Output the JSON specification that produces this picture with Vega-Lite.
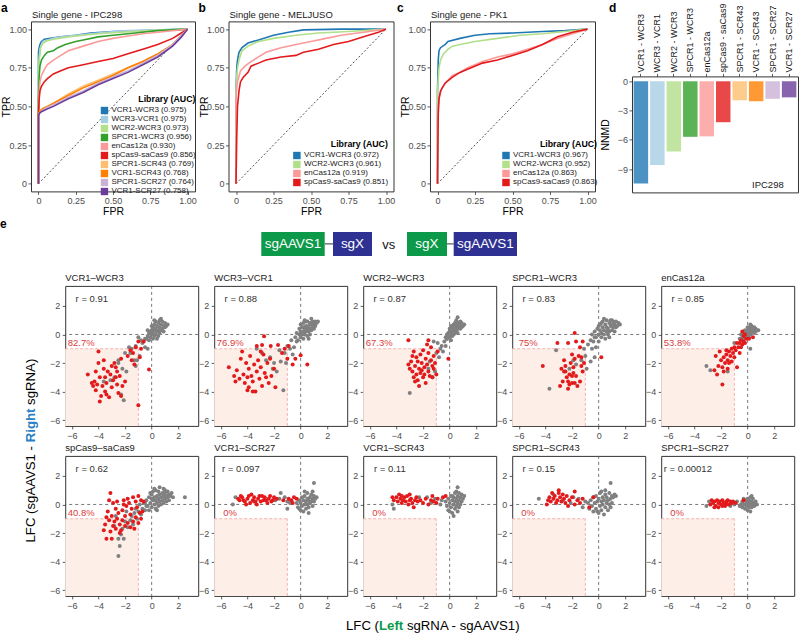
{
"$schema": "https://vega.github.io/schema/vega-lite/v6.json",
"padding": {"left": 0, "top": 1.4, "right": 0, "bottom": 0},
"background": "white",
"config": {
 "font": "Liberation Sans",
 "view": {"stroke": "#333333", "strokeWidth": 1},
 "axis": {"domain": false, "grid": false, "tickColor": "#333333", "tickSize": 3, "tickWidth": 0.8, "labelColor": "#4d4d4d", "labelFontSize": 9, "labelPadding": 1.5, "titleFontSize": 10.5, "titleFontWeight": "normal", "titleColor": "#000000", "titlePadding": 1}
},
"datasets": {
 "rocA": [
  {"s":"VCR1-WCR3 (0.975)","f":0,"t":0},{"s":"VCR1-WCR3 (0.975)","f":0,"t":0.5},{"s":"VCR1-WCR3 (0.975)","f":0,"t":0.85},{"s":"VCR1-WCR3 (0.975)","f":0.005,"t":0.88},{"s":"VCR1-WCR3 (0.975)","f":0.01,"t":0.9},{"s":"VCR1-WCR3 (0.975)","f":0.02,"t":0.92},{"s":"VCR1-WCR3 (0.975)","f":0.04,"t":0.935},{"s":"VCR1-WCR3 (0.975)","f":0.08,"t":0.94},{"s":"VCR1-WCR3 (0.975)","f":0.15,"t":0.95},{"s":"VCR1-WCR3 (0.975)","f":0.25,"t":0.96},{"s":"VCR1-WCR3 (0.975)","f":0.35,"t":0.975},{"s":"VCR1-WCR3 (0.975)","f":0.5,"t":0.985},{"s":"VCR1-WCR3 (0.975)","f":0.7,"t":0.99},{"s":"VCR1-WCR3 (0.975)","f":0.85,"t":0.995},{"s":"VCR1-WCR3 (0.975)","f":1,"t":1},
  {"s":"WCR3-VCR1 (0.975)","f":0,"t":0},{"s":"WCR3-VCR1 (0.975)","f":0,"t":0.6},{"s":"WCR3-VCR1 (0.975)","f":0.005,"t":0.82},{"s":"WCR3-VCR1 (0.975)","f":0.01,"t":0.87},{"s":"WCR3-VCR1 (0.975)","f":0.02,"t":0.9},{"s":"WCR3-VCR1 (0.975)","f":0.03,"t":0.92},{"s":"WCR3-VCR1 (0.975)","f":0.06,"t":0.93},{"s":"WCR3-VCR1 (0.975)","f":0.12,"t":0.945},{"s":"WCR3-VCR1 (0.975)","f":0.2,"t":0.955},{"s":"WCR3-VCR1 (0.975)","f":0.3,"t":0.965},{"s":"WCR3-VCR1 (0.975)","f":0.45,"t":0.98},{"s":"WCR3-VCR1 (0.975)","f":0.6,"t":0.99},{"s":"WCR3-VCR1 (0.975)","f":0.8,"t":0.995},{"s":"WCR3-VCR1 (0.975)","f":1,"t":1},
  {"s":"WCR2-WCR3 (0.973)","f":0,"t":0},{"s":"WCR2-WCR3 (0.973)","f":0,"t":0.6},{"s":"WCR2-WCR3 (0.973)","f":0.005,"t":0.8},{"s":"WCR2-WCR3 (0.973)","f":0.015,"t":0.88},{"s":"WCR2-WCR3 (0.973)","f":0.03,"t":0.91},{"s":"WCR2-WCR3 (0.973)","f":0.06,"t":0.925},{"s":"WCR2-WCR3 (0.973)","f":0.1,"t":0.935},{"s":"WCR2-WCR3 (0.973)","f":0.2,"t":0.95},{"s":"WCR2-WCR3 (0.973)","f":0.3,"t":0.96},{"s":"WCR2-WCR3 (0.973)","f":0.4,"t":0.97},{"s":"WCR2-WCR3 (0.973)","f":0.55,"t":0.98},{"s":"WCR2-WCR3 (0.973)","f":0.75,"t":0.99},{"s":"WCR2-WCR3 (0.973)","f":1,"t":1},
  {"s":"SPCR1-WCR3 (0.956)","f":0,"t":0},{"s":"SPCR1-WCR3 (0.956)","f":0,"t":0.55},{"s":"SPCR1-WCR3 (0.956)","f":0.005,"t":0.7},{"s":"SPCR1-WCR3 (0.956)","f":0.01,"t":0.76},{"s":"SPCR1-WCR3 (0.956)","f":0.02,"t":0.8},{"s":"SPCR1-WCR3 (0.956)","f":0.04,"t":0.83},{"s":"SPCR1-WCR3 (0.956)","f":0.06,"t":0.85},{"s":"SPCR1-WCR3 (0.956)","f":0.1,"t":0.86},{"s":"SPCR1-WCR3 (0.956)","f":0.13,"t":0.88},{"s":"SPCR1-WCR3 (0.956)","f":0.18,"t":0.9},{"s":"SPCR1-WCR3 (0.956)","f":0.25,"t":0.92},{"s":"SPCR1-WCR3 (0.956)","f":0.3,"t":0.93},{"s":"SPCR1-WCR3 (0.956)","f":0.4,"t":0.95},{"s":"SPCR1-WCR3 (0.956)","f":0.5,"t":0.96},{"s":"SPCR1-WCR3 (0.956)","f":0.65,"t":0.975},{"s":"SPCR1-WCR3 (0.956)","f":0.8,"t":0.99},{"s":"SPCR1-WCR3 (0.956)","f":1,"t":1},
  {"s":"enCas12a (0.930)","f":0,"t":0},{"s":"enCas12a (0.930)","f":0,"t":0.5},{"s":"enCas12a (0.930)","f":0.005,"t":0.6},{"s":"enCas12a (0.930)","f":0.01,"t":0.66},{"s":"enCas12a (0.930)","f":0.02,"t":0.7},{"s":"enCas12a (0.930)","f":0.04,"t":0.74},{"s":"enCas12a (0.930)","f":0.06,"t":0.77},{"s":"enCas12a (0.930)","f":0.1,"t":0.8},{"s":"enCas12a (0.930)","f":0.15,"t":0.83},{"s":"enCas12a (0.930)","f":0.2,"t":0.86},{"s":"enCas12a (0.930)","f":0.3,"t":0.89},{"s":"enCas12a (0.930)","f":0.4,"t":0.92},{"s":"enCas12a (0.930)","f":0.5,"t":0.94},{"s":"enCas12a (0.930)","f":0.6,"t":0.955},{"s":"enCas12a (0.930)","f":0.7,"t":0.97},{"s":"enCas12a (0.930)","f":0.85,"t":0.985},{"s":"enCas12a (0.930)","f":1,"t":1},
  {"s":"spCas9-saCas9 (0.856)","f":0,"t":0},{"s":"spCas9-saCas9 (0.856)","f":0,"t":0.45},{"s":"spCas9-saCas9 (0.856)","f":0.005,"t":0.55},{"s":"spCas9-saCas9 (0.856)","f":0.01,"t":0.6},{"s":"spCas9-saCas9 (0.856)","f":0.02,"t":0.63},{"s":"spCas9-saCas9 (0.856)","f":0.04,"t":0.66},{"s":"spCas9-saCas9 (0.856)","f":0.06,"t":0.68},{"s":"spCas9-saCas9 (0.856)","f":0.1,"t":0.71},{"s":"spCas9-saCas9 (0.856)","f":0.15,"t":0.73},{"s":"spCas9-saCas9 (0.856)","f":0.2,"t":0.75},{"s":"spCas9-saCas9 (0.856)","f":0.3,"t":0.77},{"s":"spCas9-saCas9 (0.856)","f":0.4,"t":0.79},{"s":"spCas9-saCas9 (0.856)","f":0.5,"t":0.81},{"s":"spCas9-saCas9 (0.856)","f":0.6,"t":0.84},{"s":"spCas9-saCas9 (0.856)","f":0.7,"t":0.87},{"s":"spCas9-saCas9 (0.856)","f":0.8,"t":0.9},{"s":"spCas9-saCas9 (0.856)","f":0.9,"t":0.94},{"s":"spCas9-saCas9 (0.856)","f":0.95,"t":0.97},{"s":"spCas9-saCas9 (0.856)","f":1,"t":1},
  {"s":"SPCR1-SCR43 (0.769)","f":0,"t":0},{"s":"SPCR1-SCR43 (0.769)","f":0,"t":0.44},{"s":"SPCR1-SCR43 (0.769)","f":0.01,"t":0.47},{"s":"SPCR1-SCR43 (0.769)","f":0.03,"t":0.49},{"s":"SPCR1-SCR43 (0.769)","f":0.06,"t":0.5},{"s":"SPCR1-SCR43 (0.769)","f":0.1,"t":0.52},{"s":"SPCR1-SCR43 (0.769)","f":0.15,"t":0.55},{"s":"SPCR1-SCR43 (0.769)","f":0.2,"t":0.58},{"s":"SPCR1-SCR43 (0.769)","f":0.3,"t":0.63},{"s":"SPCR1-SCR43 (0.769)","f":0.4,"t":0.67},{"s":"SPCR1-SCR43 (0.769)","f":0.5,"t":0.71},{"s":"SPCR1-SCR43 (0.769)","f":0.6,"t":0.75},{"s":"SPCR1-SCR43 (0.769)","f":0.7,"t":0.79},{"s":"SPCR1-SCR43 (0.769)","f":0.8,"t":0.84},{"s":"SPCR1-SCR43 (0.769)","f":0.9,"t":0.9},{"s":"SPCR1-SCR43 (0.769)","f":0.95,"t":0.95},{"s":"SPCR1-SCR43 (0.769)","f":1,"t":1},
  {"s":"VCR1-SCR43 (0.768)","f":0,"t":0},{"s":"VCR1-SCR43 (0.768)","f":0,"t":0.45},{"s":"VCR1-SCR43 (0.768)","f":0.01,"t":0.47},{"s":"VCR1-SCR43 (0.768)","f":0.04,"t":0.49},{"s":"VCR1-SCR43 (0.768)","f":0.08,"t":0.51},{"s":"VCR1-SCR43 (0.768)","f":0.12,"t":0.53},{"s":"VCR1-SCR43 (0.768)","f":0.2,"t":0.57},{"s":"VCR1-SCR43 (0.768)","f":0.3,"t":0.62},{"s":"VCR1-SCR43 (0.768)","f":0.4,"t":0.66},{"s":"VCR1-SCR43 (0.768)","f":0.5,"t":0.7},{"s":"VCR1-SCR43 (0.768)","f":0.6,"t":0.75},{"s":"VCR1-SCR43 (0.768)","f":0.7,"t":0.79},{"s":"VCR1-SCR43 (0.768)","f":0.8,"t":0.84},{"s":"VCR1-SCR43 (0.768)","f":0.9,"t":0.9},{"s":"VCR1-SCR43 (0.768)","f":0.97,"t":0.97},{"s":"VCR1-SCR43 (0.768)","f":1,"t":1},
  {"s":"SPCR1-SCR27 (0.764)","f":0,"t":0},{"s":"SPCR1-SCR27 (0.764)","f":0,"t":0.43},{"s":"SPCR1-SCR27 (0.764)","f":0.01,"t":0.46},{"s":"SPCR1-SCR27 (0.764)","f":0.05,"t":0.49},{"s":"SPCR1-SCR27 (0.764)","f":0.1,"t":0.51},{"s":"SPCR1-SCR27 (0.764)","f":0.2,"t":0.56},{"s":"SPCR1-SCR27 (0.764)","f":0.3,"t":0.6},{"s":"SPCR1-SCR27 (0.764)","f":0.4,"t":0.65},{"s":"SPCR1-SCR27 (0.764)","f":0.5,"t":0.69},{"s":"SPCR1-SCR27 (0.764)","f":0.6,"t":0.73},{"s":"SPCR1-SCR27 (0.764)","f":0.7,"t":0.78},{"s":"SPCR1-SCR27 (0.764)","f":0.8,"t":0.83},{"s":"SPCR1-SCR27 (0.764)","f":0.9,"t":0.9},{"s":"SPCR1-SCR27 (0.764)","f":0.96,"t":0.96},{"s":"SPCR1-SCR27 (0.764)","f":1,"t":1},
  {"s":"VCR1-SCR27 (0.758)","f":0,"t":0},{"s":"VCR1-SCR27 (0.758)","f":0,"t":0.44},{"s":"VCR1-SCR27 (0.758)","f":0.01,"t":0.46},{"s":"VCR1-SCR27 (0.758)","f":0.05,"t":0.48},{"s":"VCR1-SCR27 (0.758)","f":0.1,"t":0.5},{"s":"VCR1-SCR27 (0.758)","f":0.2,"t":0.55},{"s":"VCR1-SCR27 (0.758)","f":0.3,"t":0.59},{"s":"VCR1-SCR27 (0.758)","f":0.4,"t":0.64},{"s":"VCR1-SCR27 (0.758)","f":0.5,"t":0.68},{"s":"VCR1-SCR27 (0.758)","f":0.6,"t":0.72},{"s":"VCR1-SCR27 (0.758)","f":0.7,"t":0.77},{"s":"VCR1-SCR27 (0.758)","f":0.8,"t":0.82},{"s":"VCR1-SCR27 (0.758)","f":0.9,"t":0.89},{"s":"VCR1-SCR27 (0.758)","f":0.96,"t":0.95},{"s":"VCR1-SCR27 (0.758)","f":1,"t":1}
 ],
 "rocB": [
  {"s":"VCR1-WCR3 (0.972)","f":0,"t":0},{"s":"VCR1-WCR3 (0.972)","f":0,"t":0.6},{"s":"VCR1-WCR3 (0.972)","f":0.005,"t":0.75},{"s":"VCR1-WCR3 (0.972)","f":0.01,"t":0.8},{"s":"VCR1-WCR3 (0.972)","f":0.02,"t":0.85},{"s":"VCR1-WCR3 (0.972)","f":0.04,"t":0.88},{"s":"VCR1-WCR3 (0.972)","f":0.08,"t":0.91},{"s":"VCR1-WCR3 (0.972)","f":0.15,"t":0.93},{"s":"VCR1-WCR3 (0.972)","f":0.25,"t":0.96},{"s":"VCR1-WCR3 (0.972)","f":0.35,"t":0.98},{"s":"VCR1-WCR3 (0.972)","f":0.45,"t":0.995},{"s":"VCR1-WCR3 (0.972)","f":0.7,"t":1},{"s":"VCR1-WCR3 (0.972)","f":1,"t":1},
  {"s":"WCR2-WCR3 (0.961)","f":0,"t":0},{"s":"WCR2-WCR3 (0.961)","f":0,"t":0.6},{"s":"WCR2-WCR3 (0.961)","f":0.005,"t":0.7},{"s":"WCR2-WCR3 (0.961)","f":0.01,"t":0.75},{"s":"WCR2-WCR3 (0.961)","f":0.02,"t":0.8},{"s":"WCR2-WCR3 (0.961)","f":0.04,"t":0.86},{"s":"WCR2-WCR3 (0.961)","f":0.08,"t":0.89},{"s":"WCR2-WCR3 (0.961)","f":0.15,"t":0.92},{"s":"WCR2-WCR3 (0.961)","f":0.25,"t":0.94},{"s":"WCR2-WCR3 (0.961)","f":0.4,"t":0.96},{"s":"WCR2-WCR3 (0.961)","f":0.55,"t":0.975},{"s":"WCR2-WCR3 (0.961)","f":0.75,"t":0.985},{"s":"WCR2-WCR3 (0.961)","f":1,"t":1},
  {"s":"enCas12a (0.919)","f":0,"t":0},{"s":"enCas12a (0.919)","f":0,"t":0.55},{"s":"enCas12a (0.919)","f":0.005,"t":0.62},{"s":"enCas12a (0.919)","f":0.01,"t":0.66},{"s":"enCas12a (0.919)","f":0.03,"t":0.73},{"s":"enCas12a (0.919)","f":0.06,"t":0.76},{"s":"enCas12a (0.919)","f":0.1,"t":0.79},{"s":"enCas12a (0.919)","f":0.15,"t":0.82},{"s":"enCas12a (0.919)","f":0.2,"t":0.85},{"s":"enCas12a (0.919)","f":0.3,"t":0.88},{"s":"enCas12a (0.919)","f":0.4,"t":0.9},{"s":"enCas12a (0.919)","f":0.5,"t":0.92},{"s":"enCas12a (0.919)","f":0.6,"t":0.94},{"s":"enCas12a (0.919)","f":0.7,"t":0.96},{"s":"enCas12a (0.919)","f":0.85,"t":0.98},{"s":"enCas12a (0.919)","f":1,"t":1},
  {"s":"spCas9-saCas9 (0.851)","f":0,"t":0},{"s":"spCas9-saCas9 (0.851)","f":0.005,"t":0.3},{"s":"spCas9-saCas9 (0.851)","f":0.01,"t":0.5},{"s":"spCas9-saCas9 (0.851)","f":0.02,"t":0.6},{"s":"spCas9-saCas9 (0.851)","f":0.03,"t":0.66},{"s":"spCas9-saCas9 (0.851)","f":0.05,"t":0.69},{"s":"spCas9-saCas9 (0.851)","f":0.08,"t":0.72},{"s":"spCas9-saCas9 (0.851)","f":0.1,"t":0.76},{"s":"spCas9-saCas9 (0.851)","f":0.15,"t":0.78},{"s":"spCas9-saCas9 (0.851)","f":0.2,"t":0.8},{"s":"spCas9-saCas9 (0.851)","f":0.3,"t":0.82},{"s":"spCas9-saCas9 (0.851)","f":0.4,"t":0.83},{"s":"spCas9-saCas9 (0.851)","f":0.45,"t":0.85},{"s":"spCas9-saCas9 (0.851)","f":0.55,"t":0.87},{"s":"spCas9-saCas9 (0.851)","f":0.65,"t":0.9},{"s":"spCas9-saCas9 (0.851)","f":0.75,"t":0.92},{"s":"spCas9-saCas9 (0.851)","f":0.85,"t":0.95},{"s":"spCas9-saCas9 (0.851)","f":0.95,"t":0.98},{"s":"spCas9-saCas9 (0.851)","f":1,"t":1}
 ],
 "rocC": [
  {"s":"VCR1-WCR3 (0.967)","f":0,"t":0},{"s":"VCR1-WCR3 (0.967)","f":0,"t":0.6},{"s":"VCR1-WCR3 (0.967)","f":0.005,"t":0.8},{"s":"VCR1-WCR3 (0.967)","f":0.01,"t":0.86},{"s":"VCR1-WCR3 (0.967)","f":0.02,"t":0.88},{"s":"VCR1-WCR3 (0.967)","f":0.05,"t":0.9},{"s":"VCR1-WCR3 (0.967)","f":0.07,"t":0.92},{"s":"VCR1-WCR3 (0.967)","f":0.15,"t":0.94},{"s":"VCR1-WCR3 (0.967)","f":0.25,"t":0.96},{"s":"VCR1-WCR3 (0.967)","f":0.35,"t":0.97},{"s":"VCR1-WCR3 (0.967)","f":0.5,"t":0.975},{"s":"VCR1-WCR3 (0.967)","f":0.7,"t":0.985},{"s":"VCR1-WCR3 (0.967)","f":0.85,"t":0.99},{"s":"VCR1-WCR3 (0.967)","f":1,"t":1},
  {"s":"WCR2-WCR3 (0.952)","f":0,"t":0},{"s":"WCR2-WCR3 (0.952)","f":0,"t":0.6},{"s":"WCR2-WCR3 (0.952)","f":0.01,"t":0.75},{"s":"WCR2-WCR3 (0.952)","f":0.02,"t":0.8},{"s":"WCR2-WCR3 (0.952)","f":0.04,"t":0.84},{"s":"WCR2-WCR3 (0.952)","f":0.07,"t":0.87},{"s":"WCR2-WCR3 (0.952)","f":0.1,"t":0.89},{"s":"WCR2-WCR3 (0.952)","f":0.15,"t":0.9},{"s":"WCR2-WCR3 (0.952)","f":0.25,"t":0.92},{"s":"WCR2-WCR3 (0.952)","f":0.4,"t":0.94},{"s":"WCR2-WCR3 (0.952)","f":0.55,"t":0.96},{"s":"WCR2-WCR3 (0.952)","f":0.7,"t":0.97},{"s":"WCR2-WCR3 (0.952)","f":0.85,"t":0.985},{"s":"WCR2-WCR3 (0.952)","f":1,"t":1},
  {"s":"enCas12a (0.863)","f":0,"t":0},{"s":"enCas12a (0.863)","f":0,"t":0.4},{"s":"enCas12a (0.863)","f":0.005,"t":0.5},{"s":"enCas12a (0.863)","f":0.01,"t":0.55},{"s":"enCas12a (0.863)","f":0.03,"t":0.62},{"s":"enCas12a (0.863)","f":0.06,"t":0.66},{"s":"enCas12a (0.863)","f":0.1,"t":0.7},{"s":"enCas12a (0.863)","f":0.15,"t":0.72},{"s":"enCas12a (0.863)","f":0.2,"t":0.75},{"s":"enCas12a (0.863)","f":0.25,"t":0.77},{"s":"enCas12a (0.863)","f":0.3,"t":0.79},{"s":"enCas12a (0.863)","f":0.4,"t":0.82},{"s":"enCas12a (0.863)","f":0.5,"t":0.84},{"s":"enCas12a (0.863)","f":0.6,"t":0.87},{"s":"enCas12a (0.863)","f":0.7,"t":0.9},{"s":"enCas12a (0.863)","f":0.8,"t":0.94},{"s":"enCas12a (0.863)","f":0.9,"t":0.97},{"s":"enCas12a (0.863)","f":1,"t":1},
  {"s":"spCas9-saCas9 (0.863)","f":0,"t":0},{"s":"spCas9-saCas9 (0.863)","f":0.005,"t":0.45},{"s":"spCas9-saCas9 (0.863)","f":0.01,"t":0.55},{"s":"spCas9-saCas9 (0.863)","f":0.02,"t":0.6},{"s":"spCas9-saCas9 (0.863)","f":0.05,"t":0.65},{"s":"spCas9-saCas9 (0.863)","f":0.1,"t":0.69},{"s":"spCas9-saCas9 (0.863)","f":0.15,"t":0.72},{"s":"spCas9-saCas9 (0.863)","f":0.2,"t":0.74},{"s":"spCas9-saCas9 (0.863)","f":0.3,"t":0.78},{"s":"spCas9-saCas9 (0.863)","f":0.4,"t":0.8},{"s":"spCas9-saCas9 (0.863)","f":0.5,"t":0.83},{"s":"spCas9-saCas9 (0.863)","f":0.6,"t":0.86},{"s":"spCas9-saCas9 (0.863)","f":0.7,"t":0.9},{"s":"spCas9-saCas9 (0.863)","f":0.8,"t":0.95},{"s":"spCas9-saCas9 (0.863)","f":0.9,"t":0.98},{"s":"spCas9-saCas9 (0.863)","f":1,"t":1}
 ],
 "bars": [
  {"lib":"VCR1 - WCR3","v":-10.5},{"lib":"WCR3 - VCR1","v":-8.6},{"lib":"WCR2 - WCR3","v":-7.2},{"lib":"SPCR1 - WCR3","v":-5.7},{"lib":"enCas12a","v":-5.65},{"lib":"spCas9 - saCas9","v":-4.2},{"lib":"SPCR1 - SCR43","v":-1.95},{"lib":"VCR1 - SCR43","v":-2.05},{"lib":"SPCR1 - SCR27","v":-1.8},{"lib":"VCR1 - SCR27","v":-1.65}
 ],
 "sc": [
  {"p":1,"k":2,"r":"r = 0.91","c":"82.7%"},{"p":2,"k":2,"r":"r = 0.88","c":"76.9%"},{"p":3,"k":2,"r":"r = 0.87","c":"67.3%"},{"p":4,"k":2,"r":"r = 0.83","c":"75%"},{"p":5,"k":2,"r":"r = 0.85","c":"53.8%"},{"p":6,"k":2,"r":"r = 0.62","c":"40.8%"},{"p":7,"k":2,"r":"r = 0.097","c":"0%"},{"p":8,"k":2,"r":"r = 0.11","c":"0%"},{"p":9,"k":2,"r":"r = 0.15","c":"0%"},{"p":10,"k":2,"r":"r = 0.00012","c":"0%"},
  {"p":1,"k":0,"x":-0.4,"y":-0.3},{"p":1,"k":0,"x":-0.3,"y":-0.1},{"p":1,"k":0,"x":-0.2,"y":-0.4},{"p":1,"k":0,"x":-0.2,"y":0.1},{"p":1,"k":0,"x":-0.1,"y":-0.2},{"p":1,"k":0,"x":-0.1,"y":0.2},{"p":1,"k":0,"x":0,"y":0},{"p":1,"k":0,"x":0,"y":0.3},{"p":1,"k":0,"x":0.1,"y":-0.3},{"p":1,"k":0,"x":0.1,"y":0.1},{"p":1,"k":0,"x":0.1,"y":0.5},{"p":1,"k":0,"x":0.2,"y":-0.1},{"p":1,"k":0,"x":0.2,"y":0.3},{"p":1,"k":0,"x":0.2,"y":0.7},{"p":1,"k":0,"x":0.3,"y":0},{"p":1,"k":0,"x":0.3,"y":0.4},{"p":1,"k":0,"x":0.3,"y":0.9},{"p":1,"k":0,"x":0.4,"y":0.2},{"p":1,"k":0,"x":0.4,"y":0.6},{"p":1,"k":0,"x":0.5,"y":-0.1},{"p":1,"k":0,"x":0.5,"y":0.3},{"p":1,"k":0,"x":0.5,"y":0.8},{"p":1,"k":0,"x":0.6,"y":0.1},{"p":1,"k":0,"x":0.6,"y":0.5},{"p":1,"k":0,"x":0.6,"y":1.0},{"p":1,"k":0,"x":0.7,"y":0.3},{"p":1,"k":0,"x":0.7,"y":0.7},{"p":1,"k":0,"x":0.8,"y":0.4},{"p":1,"k":0,"x":0.8,"y":0.9},{"p":1,"k":0,"x":0.9,"y":0.2},{"p":1,"k":0,"x":0.9,"y":0.6},{"p":1,"k":0,"x":1.0,"y":0.5},{"p":1,"k":0,"x":1.0,"y":0.8},{"p":1,"k":0,"x":1.1,"y":0.6},{"p":1,"k":0,"x":1.2,"y":0.7},{"p":1,"k":0,"x":0.4,"y":-0.3},{"p":1,"k":0,"x":0,"y":0.6},{"p":1,"k":0,"x":-0.3,"y":0.3},{"p":1,"k":0,"x":0.7,"y":1.1},{"p":1,"k":0,"x":0.2,"y":1.0},
  {"p":1,"k":0,"x":-0.5,"y":-0.3},{"p":1,"k":0,"x":-0.8,"y":-0.4},{"p":1,"k":0,"x":-1.2,"y":-0.8},{"p":1,"k":0,"x":-1.5,"y":-1.0},{"p":1,"k":0,"x":-2.0,"y":-1.3},{"p":1,"k":0,"x":-2.5,"y":-1.8},{"p":1,"k":0,"x":-2.2,"y":-2.4},{"p":1,"k":0,"x":-1.2,"y":-2.2},{"p":1,"k":0,"x":-1.3,"y":-1.8},{"p":1,"k":0,"x":-0.9,"y":-1.5},{"p":1,"k":0,"x":-0.5,"y":-0.9},{"p":1,"k":0,"x":-0.3,"y":-1.0},{"p":1,"k":0,"x":-2.8,"y":-3.0},{"p":1,"k":0,"x":-3.1,"y":-3.2},{"p":1,"k":0,"x":-2.3,"y":-4.2},{"p":1,"k":0,"x":-2.1,"y":-4.6},{"p":1,"k":0,"x":-2.5,"y":-2.0},{"p":1,"k":0,"x":-1.9,"y":-2.6},{"p":1,"k":0,"x":-1.6,"y":-1.3},{"p":1,"k":0,"x":-0.7,"y":-0.6},{"p":1,"k":0,"x":-1.0,"y":-0.2},{"p":1,"k":0,"x":-1.7,"y":-0.9},{"p":1,"k":0,"x":-3.6,"y":-3.3},{"p":1,"k":0,"x":-1.1,"y":-1.8},
  {"p":1,"k":1,"x":-4.8,"y":-2.8},{"p":1,"k":1,"x":-4.5,"y":-3.4},{"p":1,"k":1,"x":-4.4,"y":-3.6},{"p":1,"k":1,"x":-4.3,"y":-3.3},{"p":1,"k":1,"x":-4.2,"y":-3.9},{"p":1,"k":1,"x":-4.1,"y":-3.5},{"p":1,"k":1,"x":-4.0,"y":-2.0},{"p":1,"k":1,"x":-3.9,"y":-4.7},{"p":1,"k":1,"x":-3.8,"y":-4.3},{"p":1,"k":1,"x":-3.7,"y":-3.6},{"p":1,"k":1,"x":-3.6,"y":-2.4},{"p":1,"k":1,"x":-3.5,"y":-3.0},{"p":1,"k":1,"x":-3.5,"y":-4.0},{"p":1,"k":1,"x":-3.4,"y":-3.4},{"p":1,"k":1,"x":-3.3,"y":-2.6},{"p":1,"k":1,"x":-3.2,"y":-4.4},{"p":1,"k":1,"x":-3.1,"y":-2.8},{"p":1,"k":1,"x":-3.0,"y":-3.7},{"p":1,"k":1,"x":-2.9,"y":-3.2},{"p":1,"k":1,"x":-2.8,"y":-2.0},{"p":1,"k":1,"x":-2.7,"y":-3.0},{"p":1,"k":1,"x":-2.6,"y":-3.5},{"p":1,"k":1,"x":-2.5,"y":-4.1},{"p":1,"k":1,"x":-2.4,"y":-2.9},{"p":1,"k":1,"x":-2.3,"y":-4.3},{"p":1,"k":1,"x":-2.2,"y":-3.6},{"p":1,"k":1,"x":-4.2,"y":-2.6},{"p":1,"k":1,"x":-3.9,"y":-3.0},{"p":1,"k":1,"x":-3.0,"y":-2.2},{"p":1,"k":1,"x":-2.6,"y":-2.6},{"p":1,"k":1,"x":-3.4,"y":-4.2},{"p":1,"k":1,"x":-4.0,"y":-1.2},{"p":1,"k":1,"x":-2.0,"y":-3.3},{"p":1,"k":1,"x":-1.6,"y":-1.1},{"p":1,"k":1,"x":-1.4,"y":-1.3},{"p":1,"k":1,"x":-1.2,"y":-0.9},{"p":1,"k":1,"x":-1.0,"y":-0.5},{"p":1,"k":1,"x":-0.9,"y":-1.6},{"p":1,"k":1,"x":-1.3,"y":-2.1},{"p":1,"k":1,"x":-0.6,"y":-0.5},{"p":1,"k":1,"x":-0.2,"y":-2.45},{"p":1,"k":1,"x":-1.0,"y":-4.95},{"p":1,"k":1,"x":-1.5,"y":-1.8},{"p":1,"k":1,"x":-0.8,"y":-1.0},{"p":1,"k":1,"x":-2.3,"y":-1.7},{"p":1,"k":1,"x":-1.8,"y":-1.5},{"p":1,"k":1,"x":-3.6,"y":-1.8},{"p":1,"k":1,"x":-2.7,"y":-2.3},
  {"p":2,"k":0,"x":-0.4,"y":-0.2},{"p":2,"k":0,"x":-0.3,"y":0.1},{"p":2,"k":0,"x":-0.2,"y":-0.4},{"p":2,"k":0,"x":-0.1,"y":0},{"p":2,"k":0,"x":-0.1,"y":0.4},{"p":2,"k":0,"x":0,"y":-0.2},{"p":2,"k":0,"x":0,"y":0.2},{"p":2,"k":0,"x":0.1,"y":0},{"p":2,"k":0,"x":0.1,"y":0.5},{"p":2,"k":0,"x":0.2,"y":-0.3},{"p":2,"k":0,"x":0.2,"y":0.2},{"p":2,"k":0,"x":0.2,"y":0.8},{"p":2,"k":0,"x":0.3,"y":0},{"p":2,"k":0,"x":0.3,"y":0.4},{"p":2,"k":0,"x":0.3,"y":1.0},{"p":2,"k":0,"x":0.4,"y":0.2},{"p":2,"k":0,"x":0.4,"y":0.6},{"p":2,"k":0,"x":0.5,"y":-0.1},{"p":2,"k":0,"x":0.5,"y":0.4},{"p":2,"k":0,"x":0.5,"y":0.9},{"p":2,"k":0,"x":0.6,"y":0.2},{"p":2,"k":0,"x":0.6,"y":0.6},{"p":2,"k":0,"x":0.7,"y":0},{"p":2,"k":0,"x":0.7,"y":0.4},{"p":2,"k":0,"x":0.7,"y":0.8},{"p":2,"k":0,"x":0.8,"y":0.3},{"p":2,"k":0,"x":0.8,"y":0.7},{"p":2,"k":0,"x":0.8,"y":1.1},{"p":2,"k":0,"x":0.9,"y":0.5},{"p":2,"k":0,"x":0.9,"y":0.9},{"p":2,"k":0,"x":1.0,"y":0.4},{"p":2,"k":0,"x":1.0,"y":0.7},{"p":2,"k":0,"x":1.1,"y":0.6},{"p":2,"k":0,"x":1.1,"y":0.9},{"p":2,"k":0,"x":1.2,"y":0.8},{"p":2,"k":0,"x":1.3,"y":0.9},{"p":2,"k":0,"x":0.4,"y":0.9},{"p":2,"k":0,"x":0,"y":0.7},{"p":2,"k":0,"x":0.6,"y":-0.3},{"p":2,"k":0,"x":0.2,"y":0.5},
  {"p":2,"k":0,"x":-0.5,"y":-0.9},{"p":2,"k":0,"x":-0.8,"y":-1.0},{"p":2,"k":0,"x":-1.2,"y":-1.3},{"p":2,"k":0,"x":-1.5,"y":-1.9},{"p":2,"k":0,"x":-2.0,"y":-2.0},{"p":2,"k":0,"x":-2.6,"y":-1.8},{"p":2,"k":0,"x":-2.9,"y":-1.3},{"p":2,"k":0,"x":-3.3,"y":-1.0},{"p":2,"k":0,"x":-1.0,"y":-0.8},{"p":2,"k":0,"x":-0.3,"y":-0.5},{"p":2,"k":0,"x":-1.3,"y":-3.9},{"p":2,"k":0,"x":-2.1,"y":-2.4},{"p":2,"k":0,"x":-0.6,"y":-1.4},{"p":2,"k":0,"x":-1.8,"y":-2.6},{"p":2,"k":0,"x":-1.6,"y":-1.1},{"p":2,"k":0,"x":-0.7,"y":-0.4},{"p":2,"k":0,"x":-2.3,"y":-1.6},{"p":2,"k":0,"x":-1.1,"y":-2.0},
  {"p":2,"k":1,"x":-5.4,"y":-2.3},{"p":2,"k":1,"x":-5.0,"y":-2.9},{"p":2,"k":1,"x":-4.8,"y":-2.5},{"p":2,"k":1,"x":-4.6,"y":-3.1},{"p":2,"k":1,"x":-4.4,"y":-1.2},{"p":2,"k":1,"x":-4.3,"y":-2.8},{"p":2,"k":1,"x":-4.2,"y":-3.4},{"p":2,"k":1,"x":-4.1,"y":-2.0},{"p":2,"k":1,"x":-4.0,"y":-3.9},{"p":2,"k":1,"x":-3.9,"y":-2.4},{"p":2,"k":1,"x":-3.9,"y":-3.7},{"p":2,"k":1,"x":-3.8,"y":-1.5},{"p":2,"k":1,"x":-3.7,"y":-2.9},{"p":2,"k":1,"x":-3.6,"y":-3.3},{"p":2,"k":1,"x":-3.5,"y":-2.1},{"p":2,"k":1,"x":-3.4,"y":-4.0},{"p":2,"k":1,"x":-3.3,"y":-2.6},{"p":2,"k":1,"x":-3.2,"y":-1.8},{"p":2,"k":1,"x":-3.1,"y":-3.1},{"p":2,"k":1,"x":-3.0,"y":-2.3},{"p":2,"k":1,"x":-2.9,"y":-3.6},{"p":2,"k":1,"x":-2.8,"y":-1.4},{"p":2,"k":1,"x":-2.7,"y":-2.7},{"p":2,"k":1,"x":-2.6,"y":-3.0},{"p":2,"k":1,"x":-2.5,"y":-2.0},{"p":2,"k":1,"x":-2.4,"y":-3.4},{"p":2,"k":1,"x":-2.3,"y":-1.7},{"p":2,"k":1,"x":-2.2,"y":-2.9},{"p":2,"k":1,"x":-4.5,"y":-1.7},{"p":2,"k":1,"x":-4.9,"y":-3.3},{"p":2,"k":1,"x":-3.0,"y":-1.2},{"p":2,"k":1,"x":-2.75,"y":-0.12},{"p":2,"k":1,"x":-2.9,"y":-0.74},{"p":2,"k":1,"x":-2.25,"y":-0.81},{"p":2,"k":1,"x":-1.7,"y":-0.74},{"p":2,"k":1,"x":-1.4,"y":-1.3},{"p":2,"k":1,"x":-1.0,"y":-1.7},{"p":2,"k":1,"x":-0.6,"y":-2.1},{"p":2,"k":1,"x":0,"y":-1.45},{"p":2,"k":1,"x":-0.9,"y":-0.8},{"p":2,"k":1,"x":-0.4,"y":-1.7},{"p":2,"k":1,"x":0.5,"y":-2.1},{"p":2,"k":1,"x":-1.9,"y":-3.7},{"p":2,"k":1,"x":-3.6,"y":-4.0},{"p":2,"k":1,"x":-4.0,"y":-3.0},{"p":2,"k":1,"x":-1.2,"y":-1.0},{"p":2,"k":1,"x":-2.0,"y":-2.4},{"p":2,"k":1,"x":-3.3,"y":-0.8},
  {"p":3,"k":0,"x":-0.3,"y":-0.2},{"p":3,"k":0,"x":-0.2,"y":0},{"p":3,"k":0,"x":-0.2,"y":-0.3},{"p":3,"k":0,"x":-0.1,"y":0.1},{"p":3,"k":0,"x":-0.1,"y":-0.1},{"p":3,"k":0,"x":0,"y":0.2},{"p":3,"k":0,"x":0,"y":-0.2},{"p":3,"k":0,"x":0.1,"y":0},{"p":3,"k":0,"x":0.1,"y":0.3},{"p":3,"k":0,"x":0.2,"y":0.1},{"p":3,"k":0,"x":0.2,"y":0.5},{"p":3,"k":0,"x":0.2,"y":-0.1},{"p":3,"k":0,"x":0.3,"y":0.3},{"p":3,"k":0,"x":0.3,"y":0.7},{"p":3,"k":0,"x":0.4,"y":0.1},{"p":3,"k":0,"x":0.4,"y":0.5},{"p":3,"k":0,"x":0.4,"y":0.8},{"p":3,"k":0,"x":0.5,"y":0.3},{"p":3,"k":0,"x":0.5,"y":0.6},{"p":3,"k":0,"x":0.6,"y":0.4},{"p":3,"k":0,"x":0.6,"y":0.8},{"p":3,"k":0,"x":0.6,"y":0.1},{"p":3,"k":0,"x":0.7,"y":0.5},{"p":3,"k":0,"x":0.7,"y":0.7},{"p":3,"k":0,"x":0.8,"y":0.4},{"p":3,"k":0,"x":0.8,"y":0.6},{"p":3,"k":0,"x":0.9,"y":0.5},{"p":3,"k":0,"x":0.9,"y":0.8},{"p":3,"k":0,"x":1.0,"y":0.6},{"p":3,"k":0,"x":1.1,"y":0.7},{"p":3,"k":0,"x":0.3,"y":0},{"p":3,"k":0,"x":0.5,"y":1.0},{"p":3,"k":0,"x":0.6,"y":1.2},{"p":3,"k":0,"x":0.1,"y":0.6},{"p":3,"k":0,"x":0.8,"y":0.9},{"p":3,"k":0,"x":0,"y":0.4},
  {"p":3,"k":0,"x":-0.6,"y":-0.8},{"p":3,"k":0,"x":-0.4,"y":-0.5},{"p":3,"k":0,"x":-0.7,"y":-1.0},{"p":3,"k":0,"x":-1.0,"y":-1.3},{"p":3,"k":0,"x":-0.5,"y":-1.2},{"p":3,"k":0,"x":-0.3,"y":-0.8},{"p":3,"k":0,"x":-1.2,"y":-0.5},{"p":3,"k":0,"x":-0.8,"y":-1.6},{"p":3,"k":0,"x":-1.5,"y":-1.9},{"p":3,"k":0,"x":-3.0,"y":-4.1},{"p":3,"k":0,"x":-1.3,"y":-3.0},{"p":3,"k":0,"x":-1.6,"y":-2.4},{"p":3,"k":0,"x":0.1,"y":-0.4},{"p":3,"k":0,"x":-0.2,"y":-0.3},{"p":3,"k":0,"x":-0.9,"y":-0.6},{"p":3,"k":0,"x":-1.1,"y":-2.6},
  {"p":3,"k":1,"x":-3.1,"y":-0.4},{"p":3,"k":1,"x":-1.6,"y":-0.4},{"p":3,"k":1,"x":-3.1,"y":-2.1},{"p":3,"k":1,"x":-3.0,"y":-2.4},{"p":3,"k":1,"x":-2.9,"y":-1.9},{"p":3,"k":1,"x":-2.8,"y":-2.6},{"p":3,"k":1,"x":-2.7,"y":-1.2},{"p":3,"k":1,"x":-2.7,"y":-3.0},{"p":3,"k":1,"x":-2.6,"y":-2.2},{"p":3,"k":1,"x":-2.5,"y":-1.6},{"p":3,"k":1,"x":-2.5,"y":-2.8},{"p":3,"k":1,"x":-2.4,"y":-3.2},{"p":3,"k":1,"x":-2.4,"y":-1.9},{"p":3,"k":1,"x":-2.3,"y":-2.4},{"p":3,"k":1,"x":-2.3,"y":-3.6},{"p":3,"k":1,"x":-2.2,"y":-1.4},{"p":3,"k":1,"x":-2.2,"y":-2.7},{"p":3,"k":1,"x":-2.1,"y":-2.0},{"p":3,"k":1,"x":-2.0,"y":-3.0},{"p":3,"k":1,"x":-2.0,"y":-1.1},{"p":3,"k":1,"x":-1.9,"y":-2.3},{"p":3,"k":1,"x":-1.9,"y":-2.8},{"p":3,"k":1,"x":-1.8,"y":-1.7},{"p":3,"k":1,"x":-1.8,"y":-3.4},{"p":3,"k":1,"x":-1.7,"y":-2.1},{"p":3,"k":1,"x":-1.6,"y":-2.6},{"p":3,"k":1,"x":-1.6,"y":-1.3},{"p":3,"k":1,"x":-1.5,"y":-2.9},{"p":3,"k":1,"x":-1.4,"y":-1.8},{"p":3,"k":1,"x":-1.3,"y":-2.2},{"p":3,"k":1,"x":-1.3,"y":-3.0},{"p":3,"k":1,"x":-1.2,"y":-1.5},{"p":3,"k":1,"x":-1.1,"y":-2.0},{"p":3,"k":1,"x":-1.0,"y":-2.8},{"p":3,"k":1,"x":-1.7,"y":-0.7},{"p":3,"k":1,"x":-0.9,"y":-1.2},{"p":3,"k":1,"x":-0.1,"y":-1.7},{"p":3,"k":1,"x":-2.8,"y":-1.5},{"p":3,"k":1,"x":-1.4,"y":-0.9},{"p":3,"k":1,"x":-2.6,"y":-3.3},{"p":3,"k":1,"x":-1.2,"y":-2.4},{"p":3,"k":1,"x":-2.1,"y":-2.5},
  {"p":4,"k":0,"x":-0.6,"y":-0.4},{"p":4,"k":0,"x":-0.5,"y":0},{"p":4,"k":0,"x":-0.4,"y":-0.5},{"p":4,"k":0,"x":-0.3,"y":0.2},{"p":4,"k":0,"x":-0.2,"y":-0.2},{"p":4,"k":0,"x":-0.1,"y":0.4},{"p":4,"k":0,"x":0,"y":0},{"p":4,"k":0,"x":0,"y":-0.5},{"p":4,"k":0,"x":0.1,"y":0.3},{"p":4,"k":0,"x":0.1,"y":0.7},{"p":4,"k":0,"x":0.2,"y":-0.2},{"p":4,"k":0,"x":0.2,"y":0.1},{"p":4,"k":0,"x":0.3,"y":0.5},{"p":4,"k":0,"x":0.3,"y":0.9},{"p":4,"k":0,"x":0.4,"y":0},{"p":4,"k":0,"x":0.4,"y":0.3},{"p":4,"k":0,"x":0.5,"y":0.7},{"p":4,"k":0,"x":0.5,"y":-0.3},{"p":4,"k":0,"x":0.6,"y":0.2},{"p":4,"k":0,"x":0.6,"y":0.5},{"p":4,"k":0,"x":0.6,"y":1.0},{"p":4,"k":0,"x":0.7,"y":0},{"p":4,"k":0,"x":0.7,"y":0.4},{"p":4,"k":0,"x":0.8,"y":0.8},{"p":4,"k":0,"x":0.8,"y":0.2},{"p":4,"k":0,"x":0.9,"y":0.6},{"p":4,"k":0,"x":0.9,"y":1.0},{"p":4,"k":0,"x":1.0,"y":0.3},{"p":4,"k":0,"x":1.0,"y":0.7},{"p":4,"k":0,"x":1.1,"y":0.5},{"p":4,"k":0,"x":1.1,"y":0.9},{"p":4,"k":0,"x":1.2,"y":0.2},{"p":4,"k":0,"x":1.2,"y":0.7},{"p":4,"k":0,"x":1.3,"y":0.5},{"p":4,"k":0,"x":1.3,"y":0.9},{"p":4,"k":0,"x":1.4,"y":0.6},{"p":4,"k":0,"x":1.5,"y":0.8},{"p":4,"k":0,"x":1.6,"y":0.7},{"p":4,"k":0,"x":0.2,"y":0.8},{"p":4,"k":0,"x":0.8,"y":-0.2},{"p":4,"k":0,"x":-0.3,"y":-0.2},{"p":4,"k":0,"x":0.4,"y":1.1},{"p":4,"k":0,"x":1.0,"y":1.0},{"p":4,"k":0,"x":0,"y":0.6},
  {"p":4,"k":0,"x":-0.5,"y":-1.0},{"p":4,"k":0,"x":-0.8,"y":-0.7},{"p":4,"k":0,"x":-1.0,"y":-1.5},{"p":4,"k":0,"x":-1.3,"y":-1.8},{"p":4,"k":0,"x":-1.7,"y":-2.1},{"p":4,"k":0,"x":-0.3,"y":-1.6},{"p":4,"k":0,"x":-0.6,"y":-1.9},{"p":4,"k":0,"x":-3.2,"y":-1.1},{"p":4,"k":0,"x":-3.7,"y":-3.8},{"p":4,"k":0,"x":-1.9,"y":-1.8},{"p":4,"k":0,"x":-2.2,"y":-2.4},{"p":4,"k":0,"x":-0.2,"y":-0.9},{"p":4,"k":0,"x":-1.1,"y":-1.0},{"p":4,"k":0,"x":-0.9,"y":-2.4},
  {"p":4,"k":1,"x":-3.1,"y":-0.6},{"p":4,"k":1,"x":-4.2,"y":-2.2},{"p":4,"k":1,"x":-2.3,"y":-0.6},{"p":4,"k":1,"x":-1.8,"y":0.1},{"p":4,"k":1,"x":-1.7,"y":-0.5},{"p":4,"k":1,"x":-1.2,"y":-0.5},{"p":4,"k":1,"x":0.2,"y":-1.6},{"p":4,"k":1,"x":-1.4,"y":-0.9},{"p":4,"k":1,"x":-2.6,"y":-1.8},{"p":4,"k":1,"x":-2.5,"y":-2.2},{"p":4,"k":1,"x":-2.5,"y":-2.6},{"p":4,"k":1,"x":-2.4,"y":-3.0},{"p":4,"k":1,"x":-2.3,"y":-3.3},{"p":4,"k":1,"x":-2.2,"y":-3.5},{"p":4,"k":1,"x":-2.0,"y":-3.4},{"p":4,"k":1,"x":-1.8,"y":-3.4},{"p":4,"k":1,"x":-1.6,"y":-3.6},{"p":4,"k":1,"x":-1.4,"y":-3.3},{"p":4,"k":1,"x":-1.2,"y":-2.6},{"p":4,"k":1,"x":-1.1,"y":-2.0},{"p":4,"k":1,"x":-1.3,"y":-1.6},{"p":4,"k":1,"x":-1.5,"y":-1.5},{"p":4,"k":1,"x":-1.8,"y":-1.7},{"p":4,"k":1,"x":-2.0,"y":-1.4},{"p":4,"k":1,"x":-2.1,"y":-2.0},{"p":4,"k":1,"x":-1.9,"y":-2.3},{"p":4,"k":1,"x":-2.2,"y":-2.8},{"p":4,"k":1,"x":-2.7,"y":-3.3},{"p":4,"k":1,"x":-2.9,"y":-3.6},{"p":4,"k":1,"x":-2.3,"y":-3.8},{"p":4,"k":1,"x":-1.9,"y":-2.7},{"p":4,"k":1,"x":-1.7,"y":-2.9},{"p":4,"k":1,"x":-1.3,"y":-2.2},{"p":4,"k":1,"x":-2.0,"y":-2.9},{"p":4,"k":1,"x":-2.6,"y":-2.6},{"p":4,"k":1,"x":-2.8,"y":-2.4},
  {"p":5,"k":0,"x":-0.4,"y":-0.2},{"p":5,"k":0,"x":-0.3,"y":0},{"p":5,"k":0,"x":-0.3,"y":-0.3},{"p":5,"k":0,"x":-0.2,"y":0.1},{"p":5,"k":0,"x":-0.2,"y":-0.1},{"p":5,"k":0,"x":-0.1,"y":0.2},{"p":5,"k":0,"x":-0.1,"y":-0.2},{"p":5,"k":0,"x":0,"y":0},{"p":5,"k":0,"x":0,"y":0.3},{"p":5,"k":0,"x":0.1,"y":0.1},{"p":5,"k":0,"x":0.1,"y":-0.2},{"p":5,"k":0,"x":0.1,"y":0.4},{"p":5,"k":0,"x":0.2,"y":0},{"p":5,"k":0,"x":0.2,"y":0.2},{"p":5,"k":0,"x":0.2,"y":0.5},{"p":5,"k":0,"x":0.3,"y":0.1},{"p":5,"k":0,"x":0.3,"y":0.3},{"p":5,"k":0,"x":0.3,"y":0.6},{"p":5,"k":0,"x":0.4,"y":0.2},{"p":5,"k":0,"x":0.4,"y":0.4},{"p":5,"k":0,"x":0.5,"y":0.1},{"p":5,"k":0,"x":0.5,"y":0.3},{"p":5,"k":0,"x":0.5,"y":0.5},{"p":5,"k":0,"x":0.6,"y":0.2},{"p":5,"k":0,"x":0.6,"y":0.4},{"p":5,"k":0,"x":0.7,"y":0.3},{"p":5,"k":0,"x":0.8,"y":0.3},{"p":5,"k":0,"x":0,"y":0.5},{"p":5,"k":0,"x":0.2,"y":0.7},{"p":5,"k":0,"x":-0.2,"y":0.3},
  {"p":5,"k":0,"x":-3.1,"y":-2.2},{"p":5,"k":0,"x":-2.8,"y":-2.5},{"p":5,"k":0,"x":-1.5,"y":-2.6},{"p":5,"k":0,"x":0.2,"y":-1.0},{"p":5,"k":0,"x":-0.6,"y":-0.3},{"p":5,"k":0,"x":-0.5,"y":0},{"p":5,"k":0,"x":-1.0,"y":-0.6},
  {"p":5,"k":1,"x":-0.2,"y":0},{"p":5,"k":1,"x":-0.1,"y":-0.3},{"p":5,"k":1,"x":-0.3,"y":-0.5},{"p":5,"k":1,"x":-0.5,"y":-0.4},{"p":5,"k":1,"x":-0.4,"y":-0.7},{"p":5,"k":1,"x":-0.6,"y":-0.6},{"p":5,"k":1,"x":-0.7,"y":-0.9},{"p":5,"k":1,"x":-0.8,"y":-0.6},{"p":5,"k":1,"x":-0.9,"y":-1.1},{"p":5,"k":1,"x":-1.0,"y":-0.9},{"p":5,"k":1,"x":-1.1,"y":-1.3},{"p":5,"k":1,"x":-1.2,"y":-1.0},{"p":5,"k":1,"x":-1.3,"y":-1.5},{"p":5,"k":1,"x":-1.4,"y":-1.2},{"p":5,"k":1,"x":-1.5,"y":-1.8},{"p":5,"k":1,"x":-1.6,"y":-1.4},{"p":5,"k":1,"x":-1.7,"y":-2.0},{"p":5,"k":1,"x":-1.8,"y":-1.6},{"p":5,"k":1,"x":-1.9,"y":-2.3},{"p":5,"k":1,"x":-2.0,"y":-1.8},{"p":5,"k":1,"x":-2.2,"y":-2.2},{"p":5,"k":1,"x":-2.4,"y":-1.5},{"p":5,"k":1,"x":-2.5,"y":-2.5},{"p":5,"k":1,"x":-1.8,"y":-2.6},{"p":5,"k":1,"x":-1.5,"y":-2.4},{"p":5,"k":1,"x":-0.8,"y":-2.3},{"p":5,"k":1,"x":-1.9,"y":-3.5},{"p":5,"k":1,"x":-2.1,"y":-1.2},{"p":5,"k":1,"x":-1.6,"y":-1.1},{"p":5,"k":1,"x":0.1,"y":-0.3},{"p":5,"k":1,"x":-0.3,"y":-0.1},{"p":5,"k":1,"x":-0.5,"y":-0.9},{"p":5,"k":1,"x":-0.2,"y":-0.6},{"p":5,"k":1,"x":-1.2,"y":-1.9},{"p":5,"k":1,"x":-1.0,"y":-1.6},{"p":5,"k":1,"x":-2.3,"y":-2.8},{"p":5,"k":1,"x":-1.4,"y":-2.0},{"p":5,"k":1,"x":0.4,"y":-0.2},{"p":5,"k":1,"x":-0.6,"y":-1.3},{"p":5,"k":1,"x":-0.4,"y":0.2},
  {"p":6,"k":0,"x":-0.7,"y":-0.3},{"p":6,"k":0,"x":-0.6,"y":0.1},{"p":6,"k":0,"x":-0.5,"y":-0.4},{"p":6,"k":0,"x":-0.4,"y":0.3},{"p":6,"k":0,"x":-0.3,"y":-0.1},{"p":6,"k":0,"x":-0.2,"y":0.5},{"p":6,"k":0,"x":-0.2,"y":-0.4},{"p":6,"k":0,"x":-0.1,"y":0.1},{"p":6,"k":0,"x":0,"y":0.7},{"p":6,"k":0,"x":0,"y":-0.2},{"p":6,"k":0,"x":0.1,"y":0.3},{"p":6,"k":0,"x":0.1,"y":0.9},{"p":6,"k":0,"x":0.2,"y":0},{"p":6,"k":0,"x":0.2,"y":0.5},{"p":6,"k":0,"x":0.3,"y":-0.3},{"p":6,"k":0,"x":0.3,"y":0.3},{"p":6,"k":0,"x":0.3,"y":1.0},{"p":6,"k":0,"x":0.4,"y":0.1},{"p":6,"k":0,"x":0.4,"y":0.6},{"p":6,"k":0,"x":0.5,"y":-0.1},{"p":6,"k":0,"x":0.5,"y":0.4},{"p":6,"k":0,"x":0.5,"y":0.9},{"p":6,"k":0,"x":0.6,"y":0.2},{"p":6,"k":0,"x":0.6,"y":0.7},{"p":6,"k":0,"x":0.6,"y":1.2},{"p":6,"k":0,"x":0.7,"y":0},{"p":6,"k":0,"x":0.7,"y":0.5},{"p":6,"k":0,"x":0.8,"y":0.3},{"p":6,"k":0,"x":0.8,"y":0.8},{"p":6,"k":0,"x":0.9,"y":0.1},{"p":6,"k":0,"x":0.9,"y":0.6},{"p":6,"k":0,"x":0.9,"y":1.1},{"p":6,"k":0,"x":1.0,"y":0.4},{"p":6,"k":0,"x":1.0,"y":0.8},{"p":6,"k":0,"x":1.1,"y":0.2},{"p":6,"k":0,"x":1.1,"y":0.6},{"p":6,"k":0,"x":1.2,"y":0.5},{"p":6,"k":0,"x":1.2,"y":0.9},{"p":6,"k":0,"x":1.3,"y":0.3},{"p":6,"k":0,"x":1.3,"y":0.7},{"p":6,"k":0,"x":1.4,"y":0.6},{"p":6,"k":0,"x":1.5,"y":0.8},{"p":6,"k":0,"x":1.6,"y":0.5},{"p":6,"k":0,"x":2.5,"y":0.5},{"p":6,"k":0,"x":0.2,"y":1.1},{"p":6,"k":0,"x":0.4,"y":-0.4},{"p":6,"k":0,"x":-0.4,"y":-0.1},{"p":6,"k":0,"x":0,"y":0.4},{"p":6,"k":0,"x":1.0,"y":1.0},{"p":6,"k":0,"x":-0.1,"y":0.8},
  {"p":6,"k":0,"x":-1.0,"y":-0.5},{"p":6,"k":0,"x":-1.5,"y":-0.8},{"p":6,"k":0,"x":-2.0,"y":-1.2},{"p":6,"k":0,"x":-2.3,"y":-2.1},{"p":6,"k":0,"x":-2.5,"y":-2.4},{"p":6,"k":0,"x":-2.4,"y":-2.9},{"p":6,"k":0,"x":-2.5,"y":-3.6},{"p":6,"k":0,"x":-2.1,"y":-2.4},{"p":6,"k":0,"x":-1.6,"y":-1.1},{"p":6,"k":0,"x":-0.6,"y":-0.4},{"p":6,"k":0,"x":-1.2,"y":-0.3},{"p":6,"k":0,"x":-0.5,"y":0.1},{"p":6,"k":0,"x":-1.8,"y":-1.6},{"p":6,"k":0,"x":-2.8,"y":-1.5},{"p":6,"k":0,"x":-1.3,"y":-0.6},{"p":6,"k":0,"x":-0.9,"y":0},{"p":6,"k":0,"x":-2.2,"y":-1.7},{"p":6,"k":0,"x":-1.1,"y":-1.0},{"p":6,"k":0,"x":-0.8,"y":-0.7},{"p":6,"k":0,"x":-2.7,"y":-0.8},{"p":6,"k":0,"x":-1.9,"y":-0.5},{"p":6,"k":0,"x":-1.4,"y":-1.4},
  {"p":6,"k":1,"x":-3.1,"y":0.8},{"p":6,"k":1,"x":-3.2,"y":0.3},{"p":6,"k":1,"x":-2.9,"y":0.1},{"p":6,"k":1,"x":-2.6,"y":0.2},{"p":6,"k":1,"x":-2.1,"y":0.3},{"p":6,"k":1,"x":-1.8,"y":0.4},{"p":6,"k":1,"x":-1.4,"y":0.5},{"p":6,"k":1,"x":-1.0,"y":0.6},{"p":6,"k":1,"x":-0.8,"y":0.3},{"p":6,"k":1,"x":-1.2,"y":0.2},{"p":6,"k":1,"x":-3.3,"y":-0.5},{"p":6,"k":1,"x":-3.0,"y":-0.8},{"p":6,"k":1,"x":-3.2,"y":-1.1},{"p":6,"k":1,"x":-2.8,"y":-1.2},{"p":6,"k":1,"x":-2.6,"y":-1.0},{"p":6,"k":1,"x":-2.4,"y":-1.4},{"p":6,"k":1,"x":-2.2,"y":-1.1},{"p":6,"k":1,"x":-2.0,"y":-0.8},{"p":6,"k":1,"x":-1.8,"y":-1.3},{"p":6,"k":1,"x":-1.6,"y":-0.7},{"p":6,"k":1,"x":-1.4,"y":-1.2},{"p":6,"k":1,"x":-1.2,"y":-0.9},{"p":6,"k":1,"x":-1.0,"y":-1.3},{"p":6,"k":1,"x":-0.8,"y":-1.0},{"p":6,"k":1,"x":-0.9,"y":-0.6},{"p":6,"k":1,"x":-3.5,"y":-1.4},{"p":6,"k":1,"x":-3.4,"y":-2.4},{"p":6,"k":1,"x":-3.0,"y":-2.4},{"p":6,"k":1,"x":-2.7,"y":-1.7},{"p":6,"k":1,"x":-2.3,"y":-1.8},{"p":6,"k":1,"x":-2.0,"y":-1.5},{"p":6,"k":1,"x":-1.6,"y":-1.6},{"p":6,"k":1,"x":-3.6,"y":-1.8},{"p":6,"k":1,"x":-2.9,"y":-1.5},{"p":6,"k":1,"x":-2.5,"y":-0.6},{"p":6,"k":1,"x":-2.2,"y":-0.4},{"p":6,"k":1,"x":-1.9,"y":-0.1},{"p":6,"k":1,"x":-1.5,"y":-0.3},{"p":6,"k":1,"x":-1.1,"y":-0.2},{"p":6,"k":1,"x":-0.7,"y":-0.5},{"p":6,"k":1,"x":-2.7,"y":-0.3},{"p":6,"k":1,"x":-1.3,"y":-1.7},{"p":6,"k":1,"x":-3.1,"y":-1.9},{"p":6,"k":1,"x":-2.1,"y":0},{"p":6,"k":1,"x":-1.7,"y":0.1},{"p":6,"k":1,"x":-0.6,"y":0.2},{"p":6,"k":1,"x":-3.4,"y":-0.9},{"p":6,"k":1,"x":-2.4,"y":-2.0},
  {"p":7,"k":0,"x":-0.3,"y":0.1},{"p":7,"k":0,"x":-0.2,"y":-0.2},{"p":7,"k":0,"x":-0.1,"y":0.3},{"p":7,"k":0,"x":0,"y":-0.4},{"p":7,"k":0,"x":0,"y":0.1},{"p":7,"k":0,"x":0.1,"y":0.5},{"p":7,"k":0,"x":0.1,"y":-0.1},{"p":7,"k":0,"x":0.2,"y":0.3},{"p":7,"k":0,"x":0.2,"y":-0.5},{"p":7,"k":0,"x":0.3,"y":0},{"p":7,"k":0,"x":0.3,"y":0.6},{"p":7,"k":0,"x":0.4,"y":0.2},{"p":7,"k":0,"x":0.4,"y":-0.3},{"p":7,"k":0,"x":0.5,"y":0.4},{"p":7,"k":0,"x":0.5,"y":0.8},{"p":7,"k":0,"x":0.5,"y":0},{"p":7,"k":0,"x":0.6,"y":0.3},{"p":7,"k":0,"x":0.6,"y":-0.2},{"p":7,"k":0,"x":0.7,"y":0.5},{"p":7,"k":0,"x":0.7,"y":0.1},{"p":7,"k":0,"x":0.8,"y":0.7},{"p":7,"k":0,"x":0.8,"y":0.2},{"p":7,"k":0,"x":0.9,"y":0.4},{"p":7,"k":0,"x":0.9,"y":-0.1},{"p":7,"k":0,"x":1.0,"y":0.6},{"p":7,"k":0,"x":1.0,"y":0.2},{"p":7,"k":0,"x":1.1,"y":0.4},{"p":7,"k":0,"x":1.2,"y":0.5},{"p":7,"k":0,"x":0.3,"y":0.9},{"p":7,"k":0,"x":0.6,"y":-0.6},{"p":7,"k":0,"x":-0.1,"y":-0.3},{"p":7,"k":0,"x":0.9,"y":0.9},
  {"p":7,"k":0,"x":1.0,"y":1.5},{"p":7,"k":0,"x":-5.1,"y":0},{"p":7,"k":0,"x":-1.6,"y":0.4},{"p":7,"k":0,"x":-1.2,"y":0.5},{"p":7,"k":0,"x":-1.0,"y":0.2},{"p":7,"k":0,"x":-1.5,"y":0.8},{"p":7,"k":0,"x":-1.0,"y":-0.3},{"p":7,"k":0,"x":-0.8,"y":0.1},{"p":7,"k":0,"x":-1.9,"y":0.3},{"p":7,"k":0,"x":-4.9,"y":0.5},
  {"p":7,"k":1,"x":-4.6,"y":0.3},{"p":7,"k":1,"x":-4.4,"y":0.5},{"p":7,"k":1,"x":-4.2,"y":0.2},{"p":7,"k":1,"x":-4.0,"y":0.4},{"p":7,"k":1,"x":-3.9,"y":0.6},{"p":7,"k":1,"x":-3.8,"y":0.1},{"p":7,"k":1,"x":-3.6,"y":0.3},{"p":7,"k":1,"x":-3.5,"y":0.5},{"p":7,"k":1,"x":-3.4,"y":0.2},{"p":7,"k":1,"x":-3.2,"y":0.4},{"p":7,"k":1,"x":-3.1,"y":0.6},{"p":7,"k":1,"x":-3.0,"y":0.2},{"p":7,"k":1,"x":-2.8,"y":0.3},{"p":7,"k":1,"x":-2.7,"y":0.5},{"p":7,"k":1,"x":-2.5,"y":0.1},{"p":7,"k":1,"x":-2.4,"y":0.4},{"p":7,"k":1,"x":-2.3,"y":0.6},{"p":7,"k":1,"x":-2.2,"y":0.2},{"p":7,"k":1,"x":-2.0,"y":0.5},{"p":7,"k":1,"x":-4.5,"y":0.6},{"p":7,"k":1,"x":-4.1,"y":0},{"p":7,"k":1,"x":-3.3,"y":0},{"p":7,"k":1,"x":-2.6,"y":0.3},{"p":7,"k":1,"x":-1.8,"y":0.4},{"p":7,"k":1,"x":-3.7,"y":0.7},{"p":7,"k":1,"x":-2.9,"y":0.6},{"p":7,"k":1,"x":-4.3,"y":0.3},{"p":7,"k":1,"x":-3.5,"y":0.2},{"p":7,"k":1,"x":-0.9,"y":0.4},{"p":7,"k":1,"x":-0.7,"y":0.3},{"p":7,"k":1,"x":-0.5,"y":0.5},{"p":7,"k":1,"x":-0.3,"y":0.4},{"p":7,"k":1,"x":-1.3,"y":0.3},{"p":7,"k":1,"x":-0.6,"y":0.1},{"p":7,"k":1,"x":-4.7,"y":0.4},{"p":7,"k":1,"x":-2.1,"y":0.3},
  {"p":8,"k":0,"x":-0.3,"y":0.2},{"p":8,"k":0,"x":-0.2,"y":-0.1},{"p":8,"k":0,"x":-0.1,"y":0.4},{"p":8,"k":0,"x":-0.1,"y":-0.4},{"p":8,"k":0,"x":0,"y":0.1},{"p":8,"k":0,"x":0.1,"y":0.6},{"p":8,"k":0,"x":0.1,"y":-0.2},{"p":8,"k":0,"x":0.2,"y":0.3},{"p":8,"k":0,"x":0.2,"y":-0.6},{"p":8,"k":0,"x":0.3,"y":0},{"p":8,"k":0,"x":0.3,"y":0.5},{"p":8,"k":0,"x":0.4,"y":-0.3},{"p":8,"k":0,"x":0.4,"y":0.2},{"p":8,"k":0,"x":0.4,"y":0.8},{"p":8,"k":0,"x":0.5,"y":-0.1},{"p":8,"k":0,"x":0.5,"y":0.4},{"p":8,"k":0,"x":0.6,"y":-0.5},{"p":8,"k":0,"x":0.6,"y":0.1},{"p":8,"k":0,"x":0.6,"y":0.6},{"p":8,"k":0,"x":0.7,"y":-0.2},{"p":8,"k":0,"x":0.7,"y":0.3},{"p":8,"k":0,"x":0.8,"y":0},{"p":8,"k":0,"x":0.8,"y":0.5},{"p":8,"k":0,"x":0.9,"y":0.2},{"p":8,"k":0,"x":0.9,"y":0.7},{"p":8,"k":0,"x":1.0,"y":0.4},{"p":8,"k":0,"x":1.1,"y":0.6},{"p":8,"k":0,"x":0.3,"y":-0.8},{"p":8,"k":0,"x":0.5,"y":0.9},{"p":8,"k":0,"x":0.2,"y":0.6},{"p":8,"k":0,"x":0.7,"y":0.8},{"p":8,"k":0,"x":0,"y":-0.5},
  {"p":8,"k":0,"x":0.6,"y":1.2},{"p":8,"k":0,"x":-4.2,"y":-0.3},{"p":8,"k":0,"x":-1.7,"y":0.5},{"p":8,"k":0,"x":-1.1,"y":0.4},{"p":8,"k":0,"x":-0.7,"y":0},{"p":8,"k":0,"x":-0.6,"y":0.3},{"p":8,"k":0,"x":-2.3,"y":0.5},{"p":8,"k":0,"x":-4.3,"y":0},{"p":8,"k":0,"x":-1.4,"y":0.1},
  {"p":8,"k":1,"x":-4.2,"y":0.3},{"p":8,"k":1,"x":-4.0,"y":0.5},{"p":8,"k":1,"x":-3.9,"y":0.2},{"p":8,"k":1,"x":-3.8,"y":0.7},{"p":8,"k":1,"x":-3.7,"y":0.4},{"p":8,"k":1,"x":-3.6,"y":0.1},{"p":8,"k":1,"x":-3.5,"y":0.3},{"p":8,"k":1,"x":-3.4,"y":0.5},{"p":8,"k":1,"x":-3.3,"y":0.2},{"p":8,"k":1,"x":-3.2,"y":0.6},{"p":8,"k":1,"x":-3.1,"y":0},{"p":8,"k":1,"x":-3.0,"y":0.3},{"p":8,"k":1,"x":-2.9,"y":0.4},{"p":8,"k":1,"x":-2.8,"y":0.1},{"p":8,"k":1,"x":-2.6,"y":0.3},{"p":8,"k":1,"x":-2.5,"y":0.5},{"p":8,"k":1,"x":-2.4,"y":0.2},{"p":8,"k":1,"x":-2.2,"y":0.3},{"p":8,"k":1,"x":-2.0,"y":0.1},{"p":8,"k":1,"x":-1.8,"y":0.4},{"p":8,"k":1,"x":-1.6,"y":0},{"p":8,"k":1,"x":-1.4,"y":0.3},{"p":8,"k":1,"x":-1.2,"y":0.2},{"p":8,"k":1,"x":-0.9,"y":0.4},{"p":8,"k":1,"x":-0.5,"y":0.5},{"p":8,"k":1,"x":-0.3,"y":0.6},{"p":8,"k":1,"x":-4.3,"y":0.5},{"p":8,"k":1,"x":-2.7,"y":-0.2},{"p":8,"k":1,"x":-3.0,"y":0.7},{"p":8,"k":1,"x":-1.0,"y":0.1},{"p":8,"k":1,"x":-1.3,"y":0.6},{"p":8,"k":1,"x":-3.6,"y":0.6},
  {"p":9,"k":0,"x":-0.8,"y":0.1},{"p":9,"k":0,"x":-0.7,"y":-0.3},{"p":9,"k":0,"x":-0.6,"y":0.3},{"p":9,"k":0,"x":-0.5,"y":-0.1},{"p":9,"k":0,"x":-0.4,"y":0.5},{"p":9,"k":0,"x":-0.4,"y":-0.5},{"p":9,"k":0,"x":-0.3,"y":0.1},{"p":9,"k":0,"x":-0.2,"y":-0.3},{"p":9,"k":0,"x":-0.2,"y":0.6},{"p":9,"k":0,"x":-0.1,"y":0.2},{"p":9,"k":0,"x":0,"y":-0.6},{"p":9,"k":0,"x":0,"y":0.4},{"p":9,"k":0,"x":0.1,"y":-0.1},{"p":9,"k":0,"x":0.1,"y":0.8},{"p":9,"k":0,"x":0.2,"y":0.2},{"p":9,"k":0,"x":0.2,"y":-0.4},{"p":9,"k":0,"x":0.3,"y":0.5},{"p":9,"k":0,"x":0.3,"y":0},{"p":9,"k":0,"x":0.4,"y":-0.7},{"p":9,"k":0,"x":0.4,"y":0.3},{"p":9,"k":0,"x":0.5,"y":0.7},{"p":9,"k":0,"x":0.5,"y":-0.2},{"p":9,"k":0,"x":0.6,"y":0.1},{"p":9,"k":0,"x":0.6,"y":0.5},{"p":9,"k":0,"x":0.7,"y":-0.4},{"p":9,"k":0,"x":0.7,"y":0.3},{"p":9,"k":0,"x":0.8,"y":0.8},{"p":9,"k":0,"x":0.8,"y":0},{"p":9,"k":0,"x":0.9,"y":0.4},{"p":9,"k":0,"x":1.0,"y":0.6},{"p":9,"k":0,"x":1.0,"y":0.1},{"p":9,"k":0,"x":1.1,"y":0.5},{"p":9,"k":0,"x":1.2,"y":0.7},{"p":9,"k":0,"x":1.3,"y":0.6},{"p":9,"k":0,"x":0.2,"y":0.9},{"p":9,"k":0,"x":-0.1,"y":-0.5},{"p":9,"k":0,"x":0.5,"y":1.0},{"p":9,"k":0,"x":0.9,"y":-0.2},
  {"p":9,"k":0,"x":0.9,"y":1.5},{"p":9,"k":0,"x":-4.5,"y":0.4},{"p":9,"k":0,"x":-1.0,"y":0.2},{"p":9,"k":0,"x":-1.5,"y":0.4},{"p":9,"k":0,"x":-1.9,"y":0.5},{"p":9,"k":0,"x":-2.7,"y":0.3},{"p":9,"k":0,"x":-1.2,"y":-0.2},{"p":9,"k":0,"x":-3.4,"y":0.7},{"p":9,"k":0,"x":-2.1,"y":0.1},
  {"p":9,"k":1,"x":-3.9,"y":0},{"p":9,"k":1,"x":-3.8,"y":0.3},{"p":9,"k":1,"x":-3.7,"y":0.5},{"p":9,"k":1,"x":-3.6,"y":0.2},{"p":9,"k":1,"x":-3.5,"y":0.8},{"p":9,"k":1,"x":-3.4,"y":0.4},{"p":9,"k":1,"x":-3.3,"y":0.6},{"p":9,"k":1,"x":-3.2,"y":0.1},{"p":9,"k":1,"x":-3.1,"y":0.3},{"p":9,"k":1,"x":-3.0,"y":1.0},{"p":9,"k":1,"x":-2.9,"y":0.5},{"p":9,"k":1,"x":-2.8,"y":0.2},{"p":9,"k":1,"x":-2.7,"y":0.7},{"p":9,"k":1,"x":-2.6,"y":0.4},{"p":9,"k":1,"x":-2.5,"y":0.1},{"p":9,"k":1,"x":-2.4,"y":0.6},{"p":9,"k":1,"x":-2.2,"y":0.3},{"p":9,"k":1,"x":-2.0,"y":0.5},{"p":9,"k":1,"x":-1.8,"y":0.9},{"p":9,"k":1,"x":-1.6,"y":0.3},{"p":9,"k":1,"x":-1.4,"y":0.1},{"p":9,"k":1,"x":-1.2,"y":0.4},{"p":9,"k":1,"x":-0.7,"y":-0.2},{"p":9,"k":1,"x":-0.4,"y":0.5},{"p":9,"k":1,"x":-3.0,"y":0.8},{"p":9,"k":1,"x":-1.8,"y":0},{"p":9,"k":1,"x":-2.3,"y":-0.1},
  {"p":10,"k":0,"x":-0.5,"y":0},{"p":10,"k":0,"x":-0.4,"y":0.2},{"p":10,"k":0,"x":-0.4,"y":-0.2},{"p":10,"k":0,"x":-0.3,"y":0},{"p":10,"k":0,"x":-0.2,"y":0.3},{"p":10,"k":0,"x":-0.2,"y":-0.3},{"p":10,"k":0,"x":-0.1,"y":0.1},{"p":10,"k":0,"x":-0.1,"y":-0.1},{"p":10,"k":0,"x":0,"y":0.4},{"p":10,"k":0,"x":0,"y":-0.4},{"p":10,"k":0,"x":0,"y":0},{"p":10,"k":0,"x":0.1,"y":0.2},{"p":10,"k":0,"x":0.1,"y":-0.2},{"p":10,"k":0,"x":0.2,"y":0},{"p":10,"k":0,"x":0.2,"y":0.5},{"p":10,"k":0,"x":0.2,"y":-0.5},{"p":10,"k":0,"x":0.3,"y":0.2},{"p":10,"k":0,"x":0.3,"y":-0.2},{"p":10,"k":0,"x":0.4,"y":0},{"p":10,"k":0,"x":0.4,"y":0.4},{"p":10,"k":0,"x":0.5,"y":0.1},{"p":10,"k":0,"x":0.5,"y":-0.1},{"p":10,"k":0,"x":0.6,"y":0.2},{"p":10,"k":0,"x":0.7,"y":0},{"p":10,"k":0,"x":0.3,"y":0.6},{"p":10,"k":0,"x":-0.3,"y":0.4},{"p":10,"k":0,"x":0.1,"y":0.3},
  {"p":10,"k":0,"x":-3.1,"y":-0.1},{"p":10,"k":0,"x":-1.0,"y":0},{"p":10,"k":0,"x":-0.8,"y":0.2},{"p":10,"k":0,"x":-0.6,"y":-0.1},{"p":10,"k":0,"x":-2.9,"y":0.2},{"p":10,"k":0,"x":-1.3,"y":-0.1},
  {"p":10,"k":1,"x":-2.7,"y":0.3},{"p":10,"k":1,"x":-2.6,"y":0.1},{"p":10,"k":1,"x":-2.5,"y":0.2},{"p":10,"k":1,"x":-2.4,"y":-0.1},{"p":10,"k":1,"x":-2.3,"y":0.3},{"p":10,"k":1,"x":-2.2,"y":0.1},{"p":10,"k":1,"x":-2.1,"y":0.2},{"p":10,"k":1,"x":-2.0,"y":0},{"p":10,"k":1,"x":-1.9,"y":0.3},{"p":10,"k":1,"x":-1.8,"y":0.1},{"p":10,"k":1,"x":-1.7,"y":-0.1},{"p":10,"k":1,"x":-1.6,"y":0.2},{"p":10,"k":1,"x":-1.5,"y":0.3},{"p":10,"k":1,"x":-1.4,"y":0},{"p":10,"k":1,"x":-1.3,"y":0.2},{"p":10,"k":1,"x":-1.2,"y":0.1},{"p":10,"k":1,"x":-2.2,"y":-0.2},{"p":10,"k":1,"x":-1.9,"y":-0.1},{"p":10,"k":1,"x":-1.1,"y":0.2},{"p":10,"k":1,"x":-0.9,"y":0.1},{"p":10,"k":1,"x":-0.3,"y":0.3},{"p":10,"k":1,"x":-2.5,"y":-0.2},{"p":10,"k":1,"x":-2.8,"y":0},{"p":10,"k":1,"x":-1.6,"y":0}
 ]
},
"vconcat": [
 {
  "hconcat": [
   {
    "hconcat": [
     {
      "width": 164, "height": 170,
      "layer": [
       {"data": {"values": [{}]}, "mark": {"type": "rule", "strokeDash": [2, 2], "color": "#222222", "strokeWidth": 0.8},
        "encoding": {"x": {"datum": 0, "type": "quantitative", "scale": {"domain": [-0.05, 1.05], "nice": false, "zero": false}, "axis": {"title": "FPR", "values": [0, 0.25, 0.5, 0.75, 1], "labelExpr": "datum.value == 0 ? '0' : format(datum.value, '.2f')", "labelPadding": 2, "titlePadding": 1}}, "y": {"datum": 0, "type": "quantitative", "scale": {"domain": [-0.05, 1.05], "nice": false, "zero": false}, "axis": {"title": "TPR", "values": [0, 0.25, 0.5, 0.75, 1], "labelExpr": "datum.value == 0 ? '0' : format(datum.value, '.2f')", "titlePadding": -3}}, "x2": {"datum": 1}, "y2": {"datum": 1}}},
       {"data": {"name": "rocA"}, "mark": {"type": "line", "strokeWidth": 1.6},
        "encoding": {
         "x": {"field": "f", "type": "quantitative", "scale": {"domain": [-0.05, 1.05], "nice": false, "zero": false}, "axis": {"title": "FPR", "values": [0, 0.25, 0.5, 0.75, 1], "labelExpr": "datum.value == 0 ? '0' : format(datum.value, '.2f')", "labelPadding": 2, "titlePadding": 1}},
         "y": {"field": "t", "type": "quantitative", "scale": {"domain": [-0.05, 1.05], "nice": false, "zero": false}, "axis": {"title": "TPR", "values": [0, 0.25, 0.5, 0.75, 1], "labelExpr": "datum.value == 0 ? '0' : format(datum.value, '.2f')", "titlePadding": -3}},
         "color": {"field": "s", "type": "nominal", "scale": {"domain": ["VCR1-WCR3 (0.975)", "WCR3-VCR1 (0.975)", "WCR2-WCR3 (0.973)", "SPCR1-WCR3 (0.956)", "enCas12a (0.930)", "spCas9-saCas9 (0.856)", "SPCR1-SCR43 (0.769)", "VCR1-SCR43 (0.768)", "SPCR1-SCR27 (0.764)", "VCR1-SCR27 (0.758)"], "range": ["#1F78B4", "#A6CEE3", "#B2DF8A", "#33A02C", "#FB9A99", "#E31A1C", "#FDBF6F", "#FF7F00", "#CAB2D6", "#6A3D9A"]},
          "legend": {"title": "Library (AUC)", "orient": "none", "legendX": 69.4, "legendY": 74, "symbolType": "square", "symbolSize": 9, "symbolStrokeWidth": 4.5, "clipHeight": 8.6, "labelFontSize": 8, "titleFontSize": 8.8, "titleFontWeight": "bold", "rowPadding": 0, "titlePadding": 2, "labelOffset": 3, "titleAnchor": "end", "labelColor": "#1a1a1a", "titleColor": "#000000", "padding": 0}},
         "order": [{"field": "f", "type": "quantitative"}, {"field": "t", "type": "quantitative"}]
        }},
       {"data": {"values": [{}]}, "mark": {"type": "text", "text": "Single gene - IPC298", "fontSize": 9.5, "align": "left", "baseline": "alphabetic", "dx": 1, "dy": -3, "color": "#1a1a1a"},
        "encoding": {"x": {"datum": -0.05, "type": "quantitative", "axis": {"title": "FPR", "values": [0, 0.25, 0.5, 0.75, 1], "labelExpr": "datum.value == 0 ? '0' : format(datum.value, '.2f')", "labelPadding": 2, "titlePadding": 1}}, "y": {"datum": 1.05, "type": "quantitative", "axis": {"title": "TPR", "values": [0, 0.25, 0.5, 0.75, 1], "labelExpr": "datum.value == 0 ? '0' : format(datum.value, '.2f')", "titlePadding": -3}}}},
       {"data": {"values": [{}]}, "mark": {"type": "text", "text": "a", "fontWeight": "bold", "fontSize": 12, "align": "left", "baseline": "alphabetic", "dx": -30, "dy": -9, "color": "#000000"},
        "encoding": {"x": {"datum": -0.05, "type": "quantitative", "axis": {"title": "FPR", "values": [0, 0.25, 0.5, 0.75, 1], "labelExpr": "datum.value == 0 ? '0' : format(datum.value, '.2f')", "labelPadding": 2, "titlePadding": 1}}, "y": {"datum": 1.05, "type": "quantitative", "axis": {"title": "TPR", "values": [0, 0.25, 0.5, 0.75, 1], "labelExpr": "datum.value == 0 ? '0' : format(datum.value, '.2f')", "titlePadding": -3}}}}
      ]
     },
     {
      "width": 165, "height": 170,
      "layer": [
       {"data": {"values": [{}]}, "mark": {"type": "rule", "strokeDash": [2, 2], "color": "#222222", "strokeWidth": 0.8},
        "encoding": {"x": {"datum": 0, "type": "quantitative", "scale": {"domain": [-0.05, 1.05], "nice": false, "zero": false}, "axis": {"title": "FPR", "values": [0, 0.25, 0.5, 0.75, 1], "labelExpr": "datum.value == 0 ? '0' : format(datum.value, '.2f')", "labelPadding": 2, "titlePadding": 1}}, "y": {"datum": 0, "type": "quantitative", "scale": {"domain": [-0.05, 1.05], "nice": false, "zero": false}, "axis": {"title": "TPR", "values": [0, 0.25, 0.5, 0.75, 1], "labelExpr": "datum.value == 0 ? '0' : format(datum.value, '.2f')", "titlePadding": -3}}, "x2": {"datum": 1}, "y2": {"datum": 1}}},
       {"data": {"name": "rocB"}, "mark": {"type": "line", "strokeWidth": 1.6},
        "encoding": {
         "x": {"field": "f", "type": "quantitative", "scale": {"domain": [-0.05, 1.05], "nice": false, "zero": false}, "axis": {"title": "FPR", "values": [0, 0.25, 0.5, 0.75, 1], "labelExpr": "datum.value == 0 ? '0' : format(datum.value, '.2f')", "labelPadding": 2, "titlePadding": 1}},
         "y": {"field": "t", "type": "quantitative", "scale": {"domain": [-0.05, 1.05], "nice": false, "zero": false}, "axis": {"title": "TPR", "values": [0, 0.25, 0.5, 0.75, 1], "labelExpr": "datum.value == 0 ? '0' : format(datum.value, '.2f')", "titlePadding": -3}},
         "color": {"field": "s", "type": "nominal", "scale": {"domain": ["VCR1-WCR3 (0.972)", "WCR2-WCR3 (0.961)", "enCas12a (0.919)", "spCas9-saCas9 (0.851)"], "range": ["#1F78B4", "#B2DF8A", "#FB9A99", "#E31A1C"]},
          "legend": {"title": "Library (AUC)", "orient": "none", "legendX": 64.4, "legendY": 119, "symbolType": "square", "symbolSize": 9, "symbolStrokeWidth": 4.5, "clipHeight": 8.6, "labelFontSize": 8, "titleFontSize": 8.8, "titleFontWeight": "bold", "rowPadding": 0, "titlePadding": 2, "labelOffset": 3, "titleAnchor": "end", "labelColor": "#1a1a1a", "titleColor": "#000000", "padding": 0}},
         "order": [{"field": "f", "type": "quantitative"}, {"field": "t", "type": "quantitative"}]
        }},
       {"data": {"values": [{}]}, "mark": {"type": "text", "text": "Single gene - MELJUSO", "fontSize": 9.5, "align": "left", "baseline": "alphabetic", "dx": 1, "dy": -3, "color": "#1a1a1a"},
        "encoding": {"x": {"datum": -0.05, "type": "quantitative", "axis": {"title": "FPR", "values": [0, 0.25, 0.5, 0.75, 1], "labelExpr": "datum.value == 0 ? '0' : format(datum.value, '.2f')", "labelPadding": 2, "titlePadding": 1}}, "y": {"datum": 1.05, "type": "quantitative", "axis": {"title": "TPR", "values": [0, 0.25, 0.5, 0.75, 1], "labelExpr": "datum.value == 0 ? '0' : format(datum.value, '.2f')", "titlePadding": -3}}}},
       {"data": {"values": [{}]}, "mark": {"type": "text", "text": "b", "fontWeight": "bold", "fontSize": 12, "align": "left", "baseline": "alphabetic", "dx": -30, "dy": -9, "color": "#000000"},
        "encoding": {"x": {"datum": -0.05, "type": "quantitative", "axis": {"title": "FPR", "values": [0, 0.25, 0.5, 0.75, 1], "labelExpr": "datum.value == 0 ? '0' : format(datum.value, '.2f')", "labelPadding": 2, "titlePadding": 1}}, "y": {"datum": 1.05, "type": "quantitative", "axis": {"title": "TPR", "values": [0, 0.25, 0.5, 0.75, 1], "labelExpr": "datum.value == 0 ? '0' : format(datum.value, '.2f')", "titlePadding": -3}}}}
      ]
     },
     {
      "width": 165, "height": 170,
      "layer": [
       {"data": {"values": [{}]}, "mark": {"type": "rule", "strokeDash": [2, 2], "color": "#222222", "strokeWidth": 0.8},
        "encoding": {"x": {"datum": 0, "type": "quantitative", "scale": {"domain": [-0.05, 1.05], "nice": false, "zero": false}, "axis": {"title": "FPR", "values": [0, 0.25, 0.5, 0.75, 1], "labelExpr": "datum.value == 0 ? '0' : format(datum.value, '.2f')", "labelPadding": 2, "titlePadding": 1}}, "y": {"datum": 0, "type": "quantitative", "scale": {"domain": [-0.05, 1.05], "nice": false, "zero": false}, "axis": {"title": "TPR", "values": [0, 0.25, 0.5, 0.75, 1], "labelExpr": "datum.value == 0 ? '0' : format(datum.value, '.2f')", "titlePadding": -3}}, "x2": {"datum": 1}, "y2": {"datum": 1}}},
       {"data": {"name": "rocC"}, "mark": {"type": "line", "strokeWidth": 1.6},
        "encoding": {
         "x": {"field": "f", "type": "quantitative", "scale": {"domain": [-0.05, 1.05], "nice": false, "zero": false}, "axis": {"title": "FPR", "values": [0, 0.25, 0.5, 0.75, 1], "labelExpr": "datum.value == 0 ? '0' : format(datum.value, '.2f')", "labelPadding": 2, "titlePadding": 1}},
         "y": {"field": "t", "type": "quantitative", "scale": {"domain": [-0.05, 1.05], "nice": false, "zero": false}, "axis": {"title": "TPR", "values": [0, 0.25, 0.5, 0.75, 1], "labelExpr": "datum.value == 0 ? '0' : format(datum.value, '.2f')", "titlePadding": -3}},
         "color": {"field": "s", "type": "nominal", "scale": {"domain": ["VCR1-WCR3 (0.967)", "WCR2-WCR3 (0.952)", "enCas12a (0.863)", "spCas9-saCas9 (0.863)"], "range": ["#1F78B4", "#B2DF8A", "#FB9A99", "#E31A1C"]},
          "legend": {"title": "Library (AUC)", "orient": "none", "legendX": 72, "legendY": 119, "symbolType": "square", "symbolSize": 9, "symbolStrokeWidth": 4.5, "clipHeight": 8.6, "labelFontSize": 8, "titleFontSize": 8.8, "titleFontWeight": "bold", "rowPadding": 0, "titlePadding": 2, "labelOffset": 3, "titleAnchor": "end", "labelColor": "#1a1a1a", "titleColor": "#000000", "padding": 0}},
         "order": [{"field": "f", "type": "quantitative"}, {"field": "t", "type": "quantitative"}]
        }},
       {"data": {"values": [{}]}, "mark": {"type": "text", "text": "Single gene - PK1", "fontSize": 9.5, "align": "left", "baseline": "alphabetic", "dx": 1, "dy": -3, "color": "#1a1a1a"},
        "encoding": {"x": {"datum": -0.05, "type": "quantitative", "axis": {"title": "FPR", "values": [0, 0.25, 0.5, 0.75, 1], "labelExpr": "datum.value == 0 ? '0' : format(datum.value, '.2f')", "labelPadding": 2, "titlePadding": 1}}, "y": {"datum": 1.05, "type": "quantitative", "axis": {"title": "TPR", "values": [0, 0.25, 0.5, 0.75, 1], "labelExpr": "datum.value == 0 ? '0' : format(datum.value, '.2f')", "titlePadding": -3}}}},
       {"data": {"values": [{}]}, "mark": {"type": "text", "text": "c", "fontWeight": "bold", "fontSize": 12, "align": "left", "baseline": "alphabetic", "dx": -33, "dy": -9, "color": "#000000"},
        "encoding": {"x": {"datum": -0.05, "type": "quantitative", "axis": {"title": "FPR", "values": [0, 0.25, 0.5, 0.75, 1], "labelExpr": "datum.value == 0 ? '0' : format(datum.value, '.2f')", "labelPadding": 2, "titlePadding": 1}}, "y": {"datum": 1.05, "type": "quantitative", "axis": {"title": "TPR", "values": [0, 0.25, 0.5, 0.75, 1], "labelExpr": "datum.value == 0 ? '0' : format(datum.value, '.2f')", "titlePadding": -3}}}}
      ]
     }
    ],
    "spacing": 0.5,
    "resolve": {"scale": {"x": "independent", "y": "independent", "color": "independent"}, "legend": {"color": "independent"}}
   },
   {
    "vconcat": [
     {"width": 166, "height": 55, "view": {"stroke": null}, "data": {"values": []}, "mark": "point"},
     {
      "width": 166, "height": 116,
      "layer": [
       {"data": {"name": "bars"}, "mark": {"type": "bar", "opacity": 0.8},
        "encoding": {
         "x": {"field": "lib", "type": "nominal", "sort": null, "scale": {"paddingInner": 0.12, "paddingOuter": 0.1}, "axis": {"orient": "top", "labelAngle": -90, "title": null, "labelFontSize": 9, "labelColor": "#1a1a1a", "labelPadding": 1.5}},
         "y": {"field": "v", "type": "quantitative", "scale": {"domain": [-11.4, 0.5], "nice": false, "zero": false}, "axis": {"values": [0, -3, -6, -9], "title": "NNMD", "titlePadding": 7}},
         "color": {"field": "lib", "type": "nominal", "sort": null, "scale": {"domain": ["VCR1 - WCR3", "WCR3 - VCR1", "WCR2 - WCR3", "SPCR1 - WCR3", "enCas12a", "spCas9 - saCas9", "SPCR1 - SCR43", "VCR1 - SCR43", "SPCR1 - SCR27", "VCR1 - SCR27"], "range": ["#1F78B4", "#A6CEE3", "#B2DF8A", "#33A02C", "#FB9A99", "#E31A1C", "#FDBF6F", "#FF7F00", "#CAB2D6", "#6A3D9A"]}, "legend": null}
        }},
       {"data": {"values": [{}]}, "mark": {"type": "text", "text": "IPC298", "fontSize": 9.5, "align": "right", "baseline": "alphabetic", "dx": -5.4, "dy": -4, "color": "#1a1a1a"},
        "encoding": {"x": {"datum": "VCR1 - SCR27", "type": "nominal", "axis": {"orient": "top", "labelAngle": -90, "title": null, "labelFontSize": 9, "labelColor": "#1a1a1a", "labelPadding": 1.5}}, "y": {"datum": -11.4, "type": "quantitative", "axis": {"values": [0, -3, -6, -9], "title": "NNMD", "titlePadding": 7}}}},
       {"data": {"values": [{}]}, "mark": {"type": "text", "text": "d", "fontWeight": "bold", "fontSize": 12, "align": "left", "baseline": "alphabetic", "dx": -32, "dy": -64, "color": "#000000"},
        "encoding": {"x": {"datum": "VCR1 - WCR3", "type": "nominal", "axis": {"orient": "top", "labelAngle": -90, "title": null, "labelFontSize": 9, "labelColor": "#1a1a1a", "labelPadding": 1.5}}, "y": {"datum": 0.5, "type": "quantitative", "axis": {"values": [0, -3, -6, -9], "title": "NNMD", "titlePadding": 7}}}}
      ]
     }
    ],
    "spacing": 0,
    "bounds": "flush",
    "resolve": {"scale": {"x": "independent", "y": "independent", "color": "independent"}}
   }
  ],
  "spacing": 0,
  "resolve": {"scale": {"x": "independent", "y": "independent", "color": "independent"}, "legend": {"color": "independent"}}
 },
 {
  "vconcat": [
   {
    "width": 760, "height": 24, "view": {"stroke": null},
    "data": {"values": [{}]},
    "layer": [
     {"mark": {"type": "rule", "color": "#333333", "strokeWidth": 1}, "encoding": {"x": {"datum": 327.7, "type": "quantitative", "scale": {"domain": [34, 794], "zero": false, "nice": false}, "axis": null}, "x2": {"datum": 336}, "y": {"datum": 12, "type": "quantitative", "scale": {"domain": [0, 24], "zero": false, "nice": false}, "axis": null}}},
     {"mark": {"type": "rule", "color": "#333333", "strokeWidth": 1}, "encoding": {"x": {"datum": 450, "type": "quantitative", "axis": null}, "x2": {"datum": 456.7}, "y": {"datum": 12, "type": "quantitative", "axis": null}}},
     {"mark": {"type": "rect", "color": "#0c9a4a"}, "encoding": {"x": {"datum": 264.3, "type": "quantitative", "axis": null}, "x2": {"datum": 327.7}, "y": {"datum": 0, "type": "quantitative", "axis": null}, "y2": {"datum": 24}}},
     {"mark": {"type": "rect", "color": "#2e3192"}, "encoding": {"x": {"datum": 336, "type": "quantitative", "axis": null}, "x2": {"datum": 375}, "y": {"datum": 0, "type": "quantitative", "axis": null}, "y2": {"datum": 24}}},
     {"mark": {"type": "rect", "color": "#0c9a4a"}, "encoding": {"x": {"datum": 410, "type": "quantitative", "axis": null}, "x2": {"datum": 450}, "y": {"datum": 0, "type": "quantitative", "axis": null}, "y2": {"datum": 24}}},
     {"mark": {"type": "rect", "color": "#2e3192"}, "encoding": {"x": {"datum": 456.7, "type": "quantitative", "axis": null}, "x2": {"datum": 520}, "y": {"datum": 0, "type": "quantitative", "axis": null}, "y2": {"datum": 24}}},
     {"mark": {"type": "text", "text": "sgAAVS1", "color": "white", "fontSize": 13.5, "align": "center", "baseline": "middle"}, "encoding": {"x": {"datum": 296, "type": "quantitative", "axis": null}, "y": {"datum": 12, "type": "quantitative", "axis": null}}},
     {"mark": {"type": "text", "text": "sgX", "color": "white", "fontSize": 13.5, "align": "center", "baseline": "middle"}, "encoding": {"x": {"datum": 355.5, "type": "quantitative", "axis": null}, "y": {"datum": 12, "type": "quantitative", "axis": null}}},
     {"mark": {"type": "text", "text": "vs", "color": "#111111", "fontSize": 13, "align": "center", "baseline": "middle"}, "encoding": {"x": {"datum": 391.7, "type": "quantitative", "axis": null}, "y": {"datum": 11, "type": "quantitative", "axis": null}}},
     {"mark": {"type": "text", "text": "sgX", "color": "white", "fontSize": 13.5, "align": "center", "baseline": "middle"}, "encoding": {"x": {"datum": 430, "type": "quantitative", "axis": null}, "y": {"datum": 12, "type": "quantitative", "axis": null}}},
     {"mark": {"type": "text", "text": "sgAAVS1", "color": "white", "fontSize": 13.5, "align": "center", "baseline": "middle"}, "encoding": {"x": {"datum": 488.35, "type": "quantitative", "axis": null}, "y": {"datum": 12, "type": "quantitative", "axis": null}}},
     {"mark": {"type": "text", "text": "e", "fontWeight": "bold", "fontSize": 12, "align": "left", "baseline": "alphabetic", "dy": -4, "color": "#000000"}, "encoding": {"x": {"datum": 3, "type": "quantitative", "axis": null}, "y": {"datum": 24, "type": "quantitative", "axis": null}}}
    ]
   },
   {
    "vconcat": [
     {
      "hconcat": [
       {
        "width": 4, "height": 310, "view": {"stroke": null},
        "data": {"values": [{}]},
        "encoding": {"x": {"datum": 0, "type": "quantitative", "scale": {"domain": [0, 4], "zero": false, "nice": false}, "axis": null}, "y": {"datum": 153.6, "type": "quantitative", "scale": {"domain": [0, 310], "zero": false, "nice": false}, "axis": null}},
        "layer": [
         {"mark": {"type": "text", "text": "LFC (sgAAVS1 -", "angle": 270, "align": "right", "baseline": "middle", "dx": -3.7, "fontSize": 13.2, "color": "#000000"}},
         {"mark": {"type": "text", "text": "Right", "angle": 270, "align": "left", "baseline": "middle", "fontSize": 13.2, "fontWeight": "bold", "color": "#2a7fc6"}},
         {"mark": {"type": "text", "text": "sgRNA)", "angle": 270, "align": "left", "baseline": "middle", "dx": 37.4, "fontSize": 13.2, "color": "#000000"}}
        ]
       },
       {
        "data": {"name": "sc"},
        "transform": [{"lookup": "p", "from": {"data": {"values": [{"p": 1, "n": "VCR1–WCR3"}, {"p": 2, "n": "WCR3–VCR1"}, {"p": 3, "n": "WCR2–WCR3"}, {"p": 4, "n": "SPCR1–WCR3"}, {"p": 5, "n": "enCas12a"}, {"p": 6, "n": "spCas9–saCas9"}, {"p": 7, "n": "VCR1–SCR27"}, {"p": 8, "n": "VCR1–SCR43"}, {"p": 9, "n": "SPCR1–SCR43"}, {"p": 10, "n": "SPCR1–SCR27"}]}, "key": "p", "fields": ["n"]}}],
        "facet": {"field": "n", "type": "nominal", "sort": ["VCR1–WCR3", "WCR3–VCR1", "WCR2–WCR3", "SPCR1–WCR3", "enCas12a", "spCas9–saCas9", "VCR1–SCR27", "VCR1–SCR43", "SPCR1–SCR43", "SPCR1–SCR27"],
         "header": {"title": null, "labelAnchor": "start", "labelAlign": "left", "labelFontSize": 9.5, "labelPadding": -5, "labelColor": "#1a1a1a", "labelBaseline": "alphabetic"}},
        "columns": 5,
        "spacing": {"row": 30, "column": 16},
        "bounds": "flush",
        "resolve": {"axis": {"x": "independent", "y": "independent"}},
        "spec": {
         "width": 133, "height": 140,
         "layer": [
          {"transform": [{"filter": "datum.k == 2"}], "mark": {"type": "rect", "color": "#fdefe8"},
           "encoding": {"x": {"datum": -6.5, "type": "quantitative", "scale": {"domain": [-6.5, 3.5], "nice": false, "zero": false}, "axis": {"values": [-6, -4, -2, 0, 2], "title": null, "labelPadding": 2.5}}, "x2": {"datum": -1}, "y": {"datum": -6.4, "type": "quantitative", "scale": {"domain": [-6.4, 3.4], "nice": false, "zero": false}, "axis": {"values": [-6, -4, -2, 0, 2], "title": null, "labelPadding": 2.5}}, "y2": {"datum": -1}}},
          {"transform": [{"filter": "datum.k == 2"}], "mark": {"type": "rule", "strokeDash": [3, 3], "color": "#555555", "strokeWidth": 0.8},
           "encoding": {"y": {"datum": 0, "type": "quantitative", "axis": {"values": [-6, -4, -2, 0, 2], "title": null, "labelPadding": 2.5}}}},
          {"transform": [{"filter": "datum.k == 2"}], "mark": {"type": "rule", "strokeDash": [3, 3], "color": "#555555", "strokeWidth": 0.8},
           "encoding": {"x": {"datum": 0, "type": "quantitative", "axis": {"values": [-6, -4, -2, 0, 2], "title": null, "labelPadding": 2.5}}}},
          {"transform": [{"filter": "datum.k == 2"}], "mark": {"type": "rule", "strokeDash": [3, 2], "color": "#f4a0a0", "strokeWidth": 0.8},
           "encoding": {"x": {"datum": -6.5, "type": "quantitative", "axis": {"values": [-6, -4, -2, 0, 2], "title": null, "labelPadding": 2.5}}, "x2": {"datum": -1}, "y": {"datum": -1, "type": "quantitative", "axis": {"values": [-6, -4, -2, 0, 2], "title": null, "labelPadding": 2.5}}}},
          {"transform": [{"filter": "datum.k == 2"}], "mark": {"type": "rule", "strokeDash": [3, 2], "color": "#f4a0a0", "strokeWidth": 0.8},
           "encoding": {"x": {"datum": -1, "type": "quantitative", "axis": {"values": [-6, -4, -2, 0, 2], "title": null, "labelPadding": 2.5}}, "y": {"datum": -6.4, "type": "quantitative", "axis": {"values": [-6, -4, -2, 0, 2], "title": null, "labelPadding": 2.5}}, "y2": {"datum": -1}}},
          {"transform": [{"filter": "datum.k == 0"}], "mark": {"type": "circle", "size": 16, "color": "#808080", "opacity": 1},
           "encoding": {"x": {"field": "x", "type": "quantitative", "scale": {"domain": [-6.5, 3.5], "nice": false, "zero": false}, "axis": {"values": [-6, -4, -2, 0, 2], "title": null, "labelPadding": 2.5}}, "y": {"field": "y", "type": "quantitative", "scale": {"domain": [-6.4, 3.4], "nice": false, "zero": false}, "axis": {"values": [-6, -4, -2, 0, 2], "title": null, "labelPadding": 2.5}}}},
          {"transform": [{"filter": "datum.k == 1"}], "mark": {"type": "circle", "size": 16, "color": "#e31a1c", "opacity": 1},
           "encoding": {"x": {"field": "x", "type": "quantitative", "axis": {"values": [-6, -4, -2, 0, 2], "title": null, "labelPadding": 2.5}}, "y": {"field": "y", "type": "quantitative", "axis": {"values": [-6, -4, -2, 0, 2], "title": null, "labelPadding": 2.5}}}},
          {"transform": [{"filter": "datum.k == 2"}], "mark": {"type": "text", "align": "center", "baseline": "middle", "fontSize": 9.5, "color": "#333333"},
           "encoding": {"x": {"datum": -4.5, "type": "quantitative", "axis": {"values": [-6, -4, -2, 0, 2], "title": null, "labelPadding": 2.5}}, "y": {"datum": 2.5, "type": "quantitative", "axis": {"values": [-6, -4, -2, 0, 2], "title": null, "labelPadding": 2.5}}, "text": {"field": "r"}}},
          {"transform": [{"filter": "datum.k == 2"}], "mark": {"type": "text", "align": "center", "baseline": "middle", "fontSize": 9.5, "color": "#dc3c3c"},
           "encoding": {"x": {"datum": -5.3, "type": "quantitative", "axis": {"values": [-6, -4, -2, 0, 2], "title": null, "labelPadding": 2.5}}, "y": {"datum": -0.63, "type": "quantitative", "axis": {"values": [-6, -4, -2, 0, 2], "title": null, "labelPadding": 2.5}}, "text": {"field": "c"}}}
         ]
        }
       }
      ],
      "spacing": 10.2,
      "resolve": {"scale": {"x": "independent", "y": "independent"}}
     },
     {
      "width": 760, "height": 2, "view": {"stroke": null},
      "data": {"values": [{}]},
      "encoding": {"x": {"datum": 382, "type": "quantitative", "scale": {"domain": [34, 794], "zero": false, "nice": false}, "axis": null}, "y": {"datum": 1, "type": "quantitative", "scale": {"domain": [0, 2], "zero": false, "nice": false}, "axis": null}},
      "layer": [
       {"mark": {"type": "text", "text": "LFC (", "align": "right", "baseline": "middle", "fontSize": 13.2, "color": "#000000"}},
       {"mark": {"type": "text", "text": "Left", "align": "left", "baseline": "middle", "fontSize": 13.2, "fontWeight": "bold", "color": "#0c9a4a"}},
       {"mark": {"type": "text", "text": "sgRNA - sgAAVS1)", "align": "left", "baseline": "middle", "dx": 27.9, "fontSize": 13.2, "color": "#000000"}}
      ]
     }
    ],
    "spacing": 8.5,
    "resolve": {"scale": {"x": "independent", "y": "independent"}}
   }
  ],
  "spacing": 16,
  "resolve": {"scale": {"x": "independent", "y": "independent"}}
 }
],
"spacing": 0.5,
"resolve": {"scale": {"x": "independent", "y": "independent", "color": "independent"}}
}
